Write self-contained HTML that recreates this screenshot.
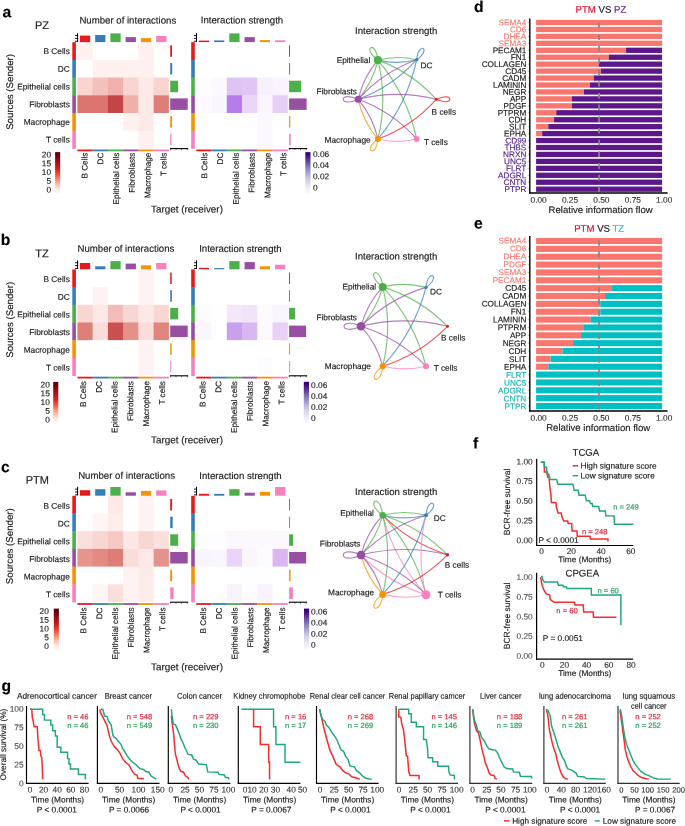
<!DOCTYPE html>
<html lang="en">
<head>
<meta charset="utf-8">
<title>Figure</title>
<style>
html,body{margin:0;padding:0;background:#fff;}
body{width:685px;height:826px;overflow:hidden;}
svg{display:block;}
svg text{font-family:"Liberation Sans",Arial,Helvetica,sans-serif;fill:#1a1a1a;stroke:#1a1a1a;stroke-width:0.15px;stroke-linejoin:round;text-rendering:geometricPrecision;}
.b{font-weight:bold;}
</style>
</head>
<body>
<svg width="685" height="826" viewBox="0 0 685 826">
<rect x="0" y="0" width="685" height="826" fill="#ffffff"/>
<defs>
<linearGradient id="gred" x1="0" y1="1" x2="0" y2="0">
<stop offset="0" stop-color="#fff5f0"/>
<stop offset="0.08" stop-color="#fff1ec"/>
<stop offset="0.25" stop-color="#fcb398"/>
<stop offset="0.45" stop-color="#f4533b"/>
<stop offset="0.6" stop-color="#d21f20"/>
<stop offset="0.78" stop-color="#9c0d14"/>
<stop offset="0.92" stop-color="#67000d"/>
<stop offset="1" stop-color="#5e000c"/>
</linearGradient>
<linearGradient id="gpur" x1="0" y1="1" x2="0" y2="0">
<stop offset="0" stop-color="#fbfafd"/>
<stop offset="0.12" stop-color="#f1eff7"/>
<stop offset="0.35" stop-color="#cfcde5"/>
<stop offset="0.6" stop-color="#8d89c0"/>
<stop offset="0.82" stop-color="#5a3395"/>
<stop offset="0.95" stop-color="#3f007d"/>
<stop offset="1" stop-color="#3a0078"/>
</linearGradient>
</defs>
<g id="panel-a">
<text x="2.6" y="17.2" font-size="15.7" class="b" transform="rotate(0.05 2.6 17.2)" style="fill:#000;stroke:#000">a</text>
<text x="42" y="28.9" font-size="11" text-anchor="middle" transform="rotate(0.05 42 28.9)">PZ</text>
<text x="127.8" y="23.6" font-size="9.65" text-anchor="middle" transform="rotate(0.05 127.8 23.6)">Number of interactions</text>
<text x="242" y="23.4" font-size="9.65" text-anchor="middle" transform="rotate(0.05 242 23.4)">Interaction strength</text>
<text x="69.8" y="54.1" font-size="8.3" text-anchor="end" transform="rotate(0.05 69.8 54.1)">B Cells</text>
<text x="69.8" y="71.8" font-size="8.3" text-anchor="end" transform="rotate(0.05 69.8 71.8)">DC</text>
<text x="69.8" y="89.5" font-size="8.3" text-anchor="end" transform="rotate(0.05 69.8 89.5)">Epithelial cells</text>
<text x="69.8" y="107.2" font-size="8.3" text-anchor="end" transform="rotate(0.05 69.8 107.2)">Fibroblasts</text>
<text x="69.8" y="124.9" font-size="8.3" text-anchor="end" transform="rotate(0.05 69.8 124.9)">Macrophage</text>
<text x="69.8" y="142.6" font-size="8.3" text-anchor="end" transform="rotate(0.05 69.8 142.6)">T cells</text>
<rect x="72.3" y="42.2" width="3.6" height="18" fill="#E41A1C"/>
<rect x="72.3" y="59.9" width="3.6" height="18" fill="#377EB8"/>
<rect x="72.3" y="77.6" width="3.6" height="18" fill="#4DAF4A"/>
<rect x="72.3" y="95.3" width="3.6" height="18" fill="#984EA3"/>
<rect x="72.3" y="113" width="3.6" height="18" fill="#F29403"/>
<rect x="72.3" y="130.7" width="3.6" height="18.1" fill="#F781BF"/>
<rect x="77.4" y="42.2" width="15.75" height="18.2" fill="#fef1f0"/>
<rect x="92.65" y="42.2" width="15.75" height="18.2" fill="#ffffff"/>
<rect x="107.9" y="42.2" width="15.75" height="18.2" fill="#ffffff"/>
<rect x="123.15" y="42.2" width="15.75" height="18.2" fill="#ffffff"/>
<rect x="138.4" y="42.2" width="15.75" height="18.2" fill="#fef1f0"/>
<rect x="153.65" y="42.2" width="15.25" height="18.2" fill="#ffffff"/>
<rect x="77.4" y="59.9" width="15.75" height="18.2" fill="#ffffff"/>
<rect x="92.65" y="59.9" width="15.75" height="18.2" fill="#fef1f0"/>
<rect x="107.9" y="59.9" width="15.75" height="18.2" fill="#fef1f0"/>
<rect x="123.15" y="59.9" width="15.75" height="18.2" fill="#fef1f0"/>
<rect x="138.4" y="59.9" width="15.75" height="18.2" fill="#fef1f0"/>
<rect x="153.65" y="59.9" width="15.25" height="18.2" fill="#ffffff"/>
<rect x="77.4" y="77.6" width="15.75" height="18.2" fill="#f8d3cf"/>
<rect x="92.65" y="77.6" width="15.75" height="18.2" fill="#f4c0bb"/>
<rect x="107.9" y="77.6" width="15.75" height="18.2" fill="#f0b1ac"/>
<rect x="123.15" y="77.6" width="15.75" height="18.2" fill="#f8d3cf"/>
<rect x="138.4" y="77.6" width="15.75" height="18.2" fill="#fde9e7"/>
<rect x="153.65" y="77.6" width="15.25" height="18.2" fill="#f8d3cf"/>
<rect x="77.4" y="95.3" width="15.75" height="18.2" fill="#dc7570"/>
<rect x="92.65" y="95.3" width="15.75" height="18.2" fill="#dc7570"/>
<rect x="107.9" y="95.3" width="15.75" height="18.2" fill="#c44546"/>
<rect x="123.15" y="95.3" width="15.75" height="18.2" fill="#efb0aa"/>
<rect x="138.4" y="95.3" width="15.75" height="18.2" fill="#fde9e7"/>
<rect x="153.65" y="95.3" width="15.25" height="18.2" fill="#de7e78"/>
<rect x="77.4" y="113" width="15.75" height="18.2" fill="#ffffff"/>
<rect x="92.65" y="113" width="15.75" height="18.2" fill="#ffffff"/>
<rect x="107.9" y="113" width="15.75" height="18.2" fill="#ffffff"/>
<rect x="123.15" y="113" width="15.75" height="18.2" fill="#fef1f0"/>
<rect x="138.4" y="113" width="15.75" height="18.2" fill="#fde9e7"/>
<rect x="153.65" y="113" width="15.25" height="18.2" fill="#ffffff"/>
<rect x="77.4" y="130.7" width="15.75" height="17.7" fill="#ffffff"/>
<rect x="92.65" y="130.7" width="15.75" height="17.7" fill="#ffffff"/>
<rect x="107.9" y="130.7" width="15.75" height="17.7" fill="#ffffff"/>
<rect x="123.15" y="130.7" width="15.75" height="17.7" fill="#ffffff"/>
<rect x="138.4" y="130.7" width="15.75" height="17.7" fill="#fef1f0"/>
<rect x="153.65" y="130.7" width="15.25" height="17.7" fill="#ffffff"/>
<rect x="77.4" y="149.5" width="15.3" height="1.8" fill="#E41A1C"/>
<rect x="92.65" y="149.5" width="15.3" height="1.8" fill="#377EB8"/>
<rect x="107.9" y="149.5" width="15.3" height="1.8" fill="#4DAF4A"/>
<rect x="123.15" y="149.5" width="15.3" height="1.8" fill="#984EA3"/>
<rect x="138.4" y="149.5" width="15.3" height="1.8" fill="#F29403"/>
<rect x="153.65" y="149.5" width="15.25" height="1.8" fill="#F781BF"/>
<rect x="79.9" y="35.6" width="10.25" height="6.5" fill="#E41A1C"/>
<rect x="95.15" y="35" width="10.25" height="7.1" fill="#377EB8"/>
<rect x="110.4" y="33.4" width="10.25" height="8.7" fill="#4DAF4A"/>
<rect x="125.65" y="37.1" width="10.25" height="5" fill="#984EA3"/>
<rect x="140.9" y="38.1" width="10.25" height="4" fill="#F29403"/>
<rect x="156.15" y="36" width="10.25" height="6.1" fill="#F781BF"/>
<rect x="170.2" y="45.3" width="1.8" height="11.5" fill="#E41A1C"/>
<rect x="170.2" y="63" width="2" height="11.5" fill="#377EB8"/>
<rect x="170.2" y="80.7" width="7.9" height="11.5" fill="#4DAF4A"/>
<rect x="170.2" y="98.4" width="17.5" height="11.5" fill="#984EA3"/>
<rect x="170.2" y="116.1" width="1.8" height="11.5" fill="#F29403"/>
<rect x="170.2" y="133.8" width="1.2" height="11.5" fill="#F781BF"/>
<line x1="77.6" y1="33.1" x2="77.6" y2="41.7" stroke="#000" stroke-width="1"/>
<line x1="75" y1="41.25" x2="78.1" y2="41.25" stroke="#000" stroke-width="0.9"/>
<line x1="75" y1="38.4" x2="78.1" y2="38.4" stroke="#000" stroke-width="0.9"/>
<line x1="75" y1="35.55" x2="78.1" y2="35.55" stroke="#000" stroke-width="0.9"/>
<line x1="170" y1="148.6" x2="188.2" y2="148.6" stroke="#000" stroke-width="1.1"/>
<line x1="170.4" y1="148.6" x2="170.4" y2="150.1" stroke="#000" stroke-width="0.6"/>
<line x1="176" y1="148.6" x2="176" y2="150.1" stroke="#000" stroke-width="0.6"/>
<line x1="181.6" y1="148.6" x2="181.6" y2="150.1" stroke="#000" stroke-width="0.6"/>
<line x1="187.2" y1="148.6" x2="187.2" y2="150.1" stroke="#000" stroke-width="0.6"/>
<rect x="191.2" y="42.2" width="3.6" height="18" fill="#E41A1C"/>
<rect x="191.2" y="59.9" width="3.6" height="18" fill="#377EB8"/>
<rect x="191.2" y="77.6" width="3.6" height="18" fill="#4DAF4A"/>
<rect x="191.2" y="95.3" width="3.6" height="18" fill="#984EA3"/>
<rect x="191.2" y="113" width="3.6" height="18" fill="#F29403"/>
<rect x="191.2" y="130.7" width="3.6" height="18.1" fill="#F781BF"/>
<rect x="196.3" y="42.2" width="15.75" height="18.2" fill="#ffffff"/>
<rect x="211.55" y="42.2" width="15.75" height="18.2" fill="#ffffff"/>
<rect x="226.8" y="42.2" width="15.75" height="18.2" fill="#ffffff"/>
<rect x="242.05" y="42.2" width="15.75" height="18.2" fill="#ffffff"/>
<rect x="257.3" y="42.2" width="15.75" height="18.2" fill="#ffffff"/>
<rect x="272.55" y="42.2" width="15.25" height="18.2" fill="#ffffff"/>
<rect x="196.3" y="59.9" width="15.75" height="18.2" fill="#ffffff"/>
<rect x="211.55" y="59.9" width="15.75" height="18.2" fill="#ffffff"/>
<rect x="226.8" y="59.9" width="15.75" height="18.2" fill="#fefdff"/>
<rect x="242.05" y="59.9" width="15.75" height="18.2" fill="#fefdff"/>
<rect x="257.3" y="59.9" width="15.75" height="18.2" fill="#ffffff"/>
<rect x="272.55" y="59.9" width="15.25" height="18.2" fill="#ffffff"/>
<rect x="196.3" y="77.6" width="15.75" height="18.2" fill="#fdfcfe"/>
<rect x="211.55" y="77.6" width="15.75" height="18.2" fill="#fbf8fe"/>
<rect x="226.8" y="77.6" width="15.75" height="18.2" fill="#dfc3f5"/>
<rect x="242.05" y="77.6" width="15.75" height="18.2" fill="#e0c5f5"/>
<rect x="257.3" y="77.6" width="15.75" height="18.2" fill="#f7f0fd"/>
<rect x="272.55" y="77.6" width="15.25" height="18.2" fill="#f9f4fd"/>
<rect x="196.3" y="95.3" width="15.75" height="18.2" fill="#fdfbff"/>
<rect x="211.55" y="95.3" width="15.75" height="18.2" fill="#faf6fe"/>
<rect x="226.8" y="95.3" width="15.75" height="18.2" fill="#b57de9"/>
<rect x="242.05" y="95.3" width="15.75" height="18.2" fill="#ead6f8"/>
<rect x="257.3" y="95.3" width="15.75" height="18.2" fill="#faf5fe"/>
<rect x="272.55" y="95.3" width="15.25" height="18.2" fill="#e6cff7"/>
<rect x="196.3" y="113" width="15.75" height="18.2" fill="#ffffff"/>
<rect x="211.55" y="113" width="15.75" height="18.2" fill="#ffffff"/>
<rect x="226.8" y="113" width="15.75" height="18.2" fill="#ffffff"/>
<rect x="242.05" y="113" width="15.75" height="18.2" fill="#fefdff"/>
<rect x="257.3" y="113" width="15.75" height="18.2" fill="#fcf9fe"/>
<rect x="272.55" y="113" width="15.25" height="18.2" fill="#ffffff"/>
<rect x="196.3" y="130.7" width="15.75" height="17.7" fill="#ffffff"/>
<rect x="211.55" y="130.7" width="15.75" height="17.7" fill="#ffffff"/>
<rect x="226.8" y="130.7" width="15.75" height="17.7" fill="#ffffff"/>
<rect x="242.05" y="130.7" width="15.75" height="17.7" fill="#ffffff"/>
<rect x="257.3" y="130.7" width="15.75" height="17.7" fill="#fcf8fe"/>
<rect x="272.55" y="130.7" width="15.25" height="17.7" fill="#ffffff"/>
<rect x="196.3" y="149.5" width="15.3" height="1.8" fill="#E41A1C"/>
<rect x="211.55" y="149.5" width="15.3" height="1.8" fill="#377EB8"/>
<rect x="226.8" y="149.5" width="15.3" height="1.8" fill="#4DAF4A"/>
<rect x="242.05" y="149.5" width="15.3" height="1.8" fill="#984EA3"/>
<rect x="257.3" y="149.5" width="15.3" height="1.8" fill="#F29403"/>
<rect x="272.55" y="149.5" width="15.25" height="1.8" fill="#F781BF"/>
<rect x="198.8" y="40.6" width="10.25" height="1.5" fill="#E41A1C"/>
<rect x="214.05" y="40.4" width="10.25" height="1.7" fill="#377EB8"/>
<rect x="229.3" y="33.4" width="10.25" height="8.7" fill="#4DAF4A"/>
<rect x="244.55" y="37.1" width="10.25" height="5" fill="#984EA3"/>
<rect x="259.8" y="40.1" width="10.25" height="2" fill="#F29403"/>
<rect x="275.05" y="40.3" width="10.25" height="1.8" fill="#F781BF"/>
<rect x="289.1" y="45.3" width="0.9" height="11.5" fill="#E41A1C"/>
<rect x="289.1" y="63" width="1" height="11.5" fill="#377EB8"/>
<rect x="289.1" y="80.7" width="12.1" height="11.5" fill="#4DAF4A"/>
<rect x="289.1" y="98.4" width="17.5" height="11.5" fill="#984EA3"/>
<rect x="289.1" y="116.1" width="1.2" height="11.5" fill="#F29403"/>
<rect x="289.1" y="133.8" width="1.6" height="11.5" fill="#F781BF"/>
<line x1="196.5" y1="33.1" x2="196.5" y2="41.7" stroke="#000" stroke-width="1"/>
<line x1="193.9" y1="41.25" x2="197" y2="41.25" stroke="#000" stroke-width="0.9"/>
<line x1="193.9" y1="38.4" x2="197" y2="38.4" stroke="#000" stroke-width="0.9"/>
<line x1="193.9" y1="35.55" x2="197" y2="35.55" stroke="#000" stroke-width="0.9"/>
<line x1="288.9" y1="148.6" x2="307.1" y2="148.6" stroke="#000" stroke-width="1.1"/>
<line x1="289.3" y1="148.6" x2="289.3" y2="150.1" stroke="#000" stroke-width="0.6"/>
<line x1="294.9" y1="148.6" x2="294.9" y2="150.1" stroke="#000" stroke-width="0.6"/>
<line x1="300.5" y1="148.6" x2="300.5" y2="150.1" stroke="#000" stroke-width="0.6"/>
<line x1="306.1" y1="148.6" x2="306.1" y2="150.1" stroke="#000" stroke-width="0.6"/>
<text x="187" y="212.6" font-size="9.9" text-anchor="middle" transform="rotate(0.05 187 212.6)">Target (receiver)</text>
<rect x="55.1" y="152.1" width="5.1" height="41.2" fill="url(#gred)"/>
<text x="51.1" y="157.6" font-size="8.3" text-anchor="end" transform="rotate(0.05 51.1 157.6)">20</text>
<text x="51.1" y="166.35" font-size="8.3" text-anchor="end" transform="rotate(0.05 51.1 166.35)">15</text>
<text x="51.1" y="175.1" font-size="8.3" text-anchor="end" transform="rotate(0.05 51.1 175.1)">10</text>
<text x="51.1" y="183.85" font-size="8.3" text-anchor="end" transform="rotate(0.05 51.1 183.85)">5</text>
<text x="51.1" y="192.6" font-size="8.3" text-anchor="end" transform="rotate(0.05 51.1 192.6)">0</text>
<rect x="305.3" y="152.1" width="5.2" height="41.6" fill="url(#gpur)"/>
<text x="313" y="156.9" font-size="8.3" transform="rotate(0.05 313 156.9)">0.06</text>
<text x="313" y="168.1" font-size="8.3" transform="rotate(0.05 313 168.1)">0.04</text>
<text x="313" y="179.3" font-size="8.3" transform="rotate(0.05 313 179.3)">0.02</text>
<text x="313" y="190.5" font-size="8.3" transform="rotate(0.05 313 190.5)">0</text>
<path d="M377.9 60.1Q397.25 55.05 416.7 59.7" fill="none" stroke="#4DAF4A" stroke-width="1.15" stroke-opacity="0.72"/>
<path d="M416.7 59.7Q397.35 64.75 377.9 60.1" fill="none" stroke="#377EB8" stroke-width="1.15" stroke-opacity="0.72"/>
<path d="M377.9 60.1Q412 72.4 436.3 99.3" fill="none" stroke="#4DAF4A" stroke-width="1.15" stroke-opacity="0.72"/>
<path d="M377.9 60.1Q407.16 94.7 416.7 139" fill="none" stroke="#4DAF4A" stroke-width="1.15" stroke-opacity="0.72"/>
<path d="M377.9 60.1Q387.76 99.55 377.9 139" fill="none" stroke="#4DAF4A" stroke-width="1.15" stroke-opacity="0.72"/>
<path d="M377.9 60.1Q372.95 82.16 358.2 99.3" fill="none" stroke="#4DAF4A" stroke-width="1.15" stroke-opacity="0.72"/>
<path d="M358.2 99.3Q363.15 77.24 377.9 60.1" fill="none" stroke="#984EA3" stroke-width="1.15" stroke-opacity="0.72"/>
<path d="M358.2 99.3Q382.5 72.19 416.7 59.7" fill="none" stroke="#984EA3" stroke-width="1.15" stroke-opacity="0.72"/>
<path d="M358.2 99.3Q397.25 89.54 436.3 99.3" fill="none" stroke="#984EA3" stroke-width="1.15" stroke-opacity="0.72"/>
<path d="M358.2 99.3Q392.41 111.84 416.7 139" fill="none" stroke="#984EA3" stroke-width="1.15" stroke-opacity="0.72"/>
<path d="M358.2 99.3Q373.01 116.69 377.9 139" fill="none" stroke="#984EA3" stroke-width="1.15" stroke-opacity="0.72"/>
<path d="M416.7 59.7Q392.4 86.81 358.2 99.3" fill="none" stroke="#377EB8" stroke-width="1.15" stroke-opacity="0.72"/>
<path d="M416.7 59.7Q407.21 104.2 377.9 139" fill="none" stroke="#377EB8" stroke-width="1.15" stroke-opacity="0.72"/>
<path d="M436.3 99.3Q412.06 126.45 377.9 139" fill="none" stroke="#E41A1C" stroke-width="1.15" stroke-opacity="0.72"/>
<path d="M377.9 139Q363.09 121.61 358.2 99.3" fill="none" stroke="#F29403" stroke-width="1.15" stroke-opacity="0.72"/>
<path d="M416.7 139Q397.3 143.85 377.9 139" fill="none" stroke="#F781BF" stroke-width="1.15" stroke-opacity="0.72"/>
<path d="M377.9 60.1C376.07 39.18 360.7 48.05 377.9 60.1" fill="none" stroke="#4DAF4A" stroke-width="1.15" stroke-opacity="0.72"/>
<path d="M416.7 59.7C432.26 48.8 418.36 40.77 416.7 59.7" fill="none" stroke="#377EB8" stroke-width="1.15" stroke-opacity="0.72"/>
<path d="M436.3 99.3C454.43 107.75 454.43 90.85 436.3 99.3" fill="none" stroke="#E41A1C" stroke-width="1.15" stroke-opacity="0.72"/>
<path d="M358.2 99.3C338.26 90 338.26 108.6 358.2 99.3" fill="none" stroke="#984EA3" stroke-width="1.15" stroke-opacity="0.72"/>
<path d="M377.9 139C361.76 150.3 376.18 158.63 377.9 139" fill="none" stroke="#F29403" stroke-width="1.15" stroke-opacity="0.72"/>
<circle cx="436.3" cy="99.3" r="1.5" fill="#E41A1C"/>
<circle cx="416.7" cy="59.7" r="1.7" fill="#377EB8"/>
<circle cx="377.9" cy="60.1" r="4.1" fill="#4DAF4A"/>
<circle cx="358.2" cy="99.3" r="3.5" fill="#984EA3"/>
<circle cx="377.9" cy="139" r="3" fill="#F29403"/>
<circle cx="416.7" cy="139" r="3" fill="#F781BF"/>
<text x="370.3" y="63.1" font-size="8.3" text-anchor="end" transform="rotate(0.05 370.3 63.1)">Epithelial</text>
<text x="420.4" y="68.2" font-size="8.3" transform="rotate(0.05 420.4 68.2)">DC</text>
<text x="357" y="94.2" font-size="8.3" text-anchor="end" transform="rotate(0.05 357 94.2)">Fibroblasts</text>
<text x="431.6" y="114.8" font-size="8.3" transform="rotate(0.05 431.6 114.8)">B cells</text>
<text x="424" y="144.9" font-size="8.3" transform="rotate(0.05 424 144.9)">T cells</text>
<text x="370.7" y="142.8" font-size="8.3" text-anchor="end" transform="rotate(0.05 370.7 142.8)">Macrophage</text>
<text x="396.2" y="34.1" font-size="9.65" text-anchor="middle" transform="rotate(0.05 396.2 34.1)">Interaction strength</text>
</g>
<g id="panel-b">
<text x="0.85" y="245.1" font-size="15.7" class="b" transform="rotate(0.05 0.85 245.1)" style="fill:#000;stroke:#000">b</text>
<text x="42" y="257.2" font-size="11" text-anchor="middle" transform="rotate(0.05 42 257.2)">TZ</text>
<text x="125.9" y="251.8" font-size="9.65" text-anchor="middle" transform="rotate(0.05 125.9 251.8)">Number of interactions</text>
<text x="240.35" y="251.9" font-size="9.65" text-anchor="middle" transform="rotate(0.05 240.35 251.9)">Interaction strength</text>
<text x="69.8" y="282" font-size="8.3" text-anchor="end" transform="rotate(0.05 69.8 282)">B Cells</text>
<text x="69.8" y="299.7" font-size="8.3" text-anchor="end" transform="rotate(0.05 69.8 299.7)">DC</text>
<text x="69.8" y="317.4" font-size="8.3" text-anchor="end" transform="rotate(0.05 69.8 317.4)">Epithelial cells</text>
<text x="69.8" y="335.1" font-size="8.3" text-anchor="end" transform="rotate(0.05 69.8 335.1)">Fibroblasts</text>
<text x="69.8" y="352.8" font-size="8.3" text-anchor="end" transform="rotate(0.05 69.8 352.8)">Macrophage</text>
<text x="69.8" y="370.5" font-size="8.3" text-anchor="end" transform="rotate(0.05 69.8 370.5)">T cells</text>
<rect x="72.3" y="269.4" width="3.6" height="18" fill="#E41A1C"/>
<rect x="72.3" y="287.1" width="3.6" height="18" fill="#377EB8"/>
<rect x="72.3" y="304.8" width="3.6" height="18" fill="#4DAF4A"/>
<rect x="72.3" y="322.5" width="3.6" height="18" fill="#984EA3"/>
<rect x="72.3" y="340.2" width="3.6" height="18" fill="#F29403"/>
<rect x="72.3" y="357.9" width="3.6" height="18.1" fill="#F781BF"/>
<rect x="77.4" y="269.4" width="15.75" height="18.2" fill="#ffffff"/>
<rect x="92.65" y="269.4" width="15.75" height="18.2" fill="#ffffff"/>
<rect x="107.9" y="269.4" width="15.75" height="18.2" fill="#ffffff"/>
<rect x="123.15" y="269.4" width="15.75" height="18.2" fill="#ffffff"/>
<rect x="138.4" y="269.4" width="15.75" height="18.2" fill="#fef3f2"/>
<rect x="153.65" y="269.4" width="15.25" height="18.2" fill="#ffffff"/>
<rect x="77.4" y="287.1" width="15.75" height="18.2" fill="#ffffff"/>
<rect x="92.65" y="287.1" width="15.75" height="18.2" fill="#fef3f2"/>
<rect x="107.9" y="287.1" width="15.75" height="18.2" fill="#ffffff"/>
<rect x="123.15" y="287.1" width="15.75" height="18.2" fill="#ffffff"/>
<rect x="138.4" y="287.1" width="15.75" height="18.2" fill="#fef3f2"/>
<rect x="153.65" y="287.1" width="15.25" height="18.2" fill="#ffffff"/>
<rect x="77.4" y="304.8" width="15.75" height="18.2" fill="#f8d6d2"/>
<rect x="92.65" y="304.8" width="15.75" height="18.2" fill="#fce8e6"/>
<rect x="107.9" y="304.8" width="15.75" height="18.2" fill="#f3bcb8"/>
<rect x="123.15" y="304.8" width="15.75" height="18.2" fill="#f8d6d2"/>
<rect x="138.4" y="304.8" width="15.75" height="18.2" fill="#fce8e6"/>
<rect x="153.65" y="304.8" width="15.25" height="18.2" fill="#f8d6d2"/>
<rect x="77.4" y="322.5" width="15.75" height="18.2" fill="#de7f78"/>
<rect x="92.65" y="322.5" width="15.75" height="18.2" fill="#fbdedb"/>
<rect x="107.9" y="322.5" width="15.75" height="18.2" fill="#c9504f"/>
<rect x="123.15" y="322.5" width="15.75" height="18.2" fill="#e59089"/>
<rect x="138.4" y="322.5" width="15.75" height="18.2" fill="#fbdedb"/>
<rect x="153.65" y="322.5" width="15.25" height="18.2" fill="#e0847d"/>
<rect x="77.4" y="340.2" width="15.75" height="18.2" fill="#ffffff"/>
<rect x="92.65" y="340.2" width="15.75" height="18.2" fill="#ffffff"/>
<rect x="107.9" y="340.2" width="15.75" height="18.2" fill="#ffffff"/>
<rect x="123.15" y="340.2" width="15.75" height="18.2" fill="#ffffff"/>
<rect x="138.4" y="340.2" width="15.75" height="18.2" fill="#fef3f2"/>
<rect x="153.65" y="340.2" width="15.25" height="18.2" fill="#ffffff"/>
<rect x="77.4" y="357.9" width="15.75" height="17.7" fill="#ffffff"/>
<rect x="92.65" y="357.9" width="15.75" height="17.7" fill="#ffffff"/>
<rect x="107.9" y="357.9" width="15.75" height="17.7" fill="#ffffff"/>
<rect x="123.15" y="357.9" width="15.75" height="17.7" fill="#ffffff"/>
<rect x="138.4" y="357.9" width="15.75" height="17.7" fill="#fef3f2"/>
<rect x="153.65" y="357.9" width="15.25" height="17.7" fill="#ffffff"/>
<rect x="77.4" y="376.7" width="15.3" height="1.8" fill="#E41A1C"/>
<rect x="92.65" y="376.7" width="15.3" height="1.8" fill="#377EB8"/>
<rect x="107.9" y="376.7" width="15.3" height="1.8" fill="#4DAF4A"/>
<rect x="123.15" y="376.7" width="15.3" height="1.8" fill="#984EA3"/>
<rect x="138.4" y="376.7" width="15.3" height="1.8" fill="#F29403"/>
<rect x="153.65" y="376.7" width="15.25" height="1.8" fill="#F781BF"/>
<rect x="79.9" y="263" width="10.25" height="6.3" fill="#E41A1C"/>
<rect x="95.15" y="266.3" width="10.25" height="3" fill="#377EB8"/>
<rect x="110.4" y="261.1" width="10.25" height="8.2" fill="#4DAF4A"/>
<rect x="125.65" y="263.6" width="10.25" height="5.7" fill="#984EA3"/>
<rect x="140.9" y="265.3" width="10.25" height="4" fill="#F29403"/>
<rect x="156.15" y="263" width="10.25" height="6.3" fill="#F781BF"/>
<rect x="170.2" y="272.5" width="1.5" height="11.5" fill="#E41A1C"/>
<rect x="170.2" y="290.2" width="1.7" height="11.5" fill="#377EB8"/>
<rect x="170.2" y="307.9" width="8" height="11.5" fill="#4DAF4A"/>
<rect x="170.2" y="325.6" width="17.5" height="11.5" fill="#984EA3"/>
<rect x="170.2" y="343.3" width="1.5" height="11.5" fill="#F29403"/>
<rect x="170.2" y="361" width="1" height="11.5" fill="#F781BF"/>
<line x1="77.6" y1="260.3" x2="77.6" y2="268.9" stroke="#000" stroke-width="1"/>
<line x1="75" y1="268.45" x2="78.1" y2="268.45" stroke="#000" stroke-width="0.9"/>
<line x1="75" y1="265.6" x2="78.1" y2="265.6" stroke="#000" stroke-width="0.9"/>
<line x1="75" y1="262.75" x2="78.1" y2="262.75" stroke="#000" stroke-width="0.9"/>
<line x1="170" y1="375.8" x2="188.2" y2="375.8" stroke="#000" stroke-width="1.1"/>
<line x1="170.4" y1="375.8" x2="170.4" y2="377.3" stroke="#000" stroke-width="0.6"/>
<line x1="176" y1="375.8" x2="176" y2="377.3" stroke="#000" stroke-width="0.6"/>
<line x1="181.6" y1="375.8" x2="181.6" y2="377.3" stroke="#000" stroke-width="0.6"/>
<line x1="187.2" y1="375.8" x2="187.2" y2="377.3" stroke="#000" stroke-width="0.6"/>
<rect x="191.2" y="269.4" width="3.6" height="18" fill="#E41A1C"/>
<rect x="191.2" y="287.1" width="3.6" height="18" fill="#377EB8"/>
<rect x="191.2" y="304.8" width="3.6" height="18" fill="#4DAF4A"/>
<rect x="191.2" y="322.5" width="3.6" height="18" fill="#984EA3"/>
<rect x="191.2" y="340.2" width="3.6" height="18" fill="#F29403"/>
<rect x="191.2" y="357.9" width="3.6" height="18.1" fill="#F781BF"/>
<rect x="196.3" y="269.4" width="15.75" height="18.2" fill="#ffffff"/>
<rect x="211.55" y="269.4" width="15.75" height="18.2" fill="#ffffff"/>
<rect x="226.8" y="269.4" width="15.75" height="18.2" fill="#ffffff"/>
<rect x="242.05" y="269.4" width="15.75" height="18.2" fill="#ffffff"/>
<rect x="257.3" y="269.4" width="15.75" height="18.2" fill="#ffffff"/>
<rect x="272.55" y="269.4" width="15.25" height="18.2" fill="#ffffff"/>
<rect x="196.3" y="287.1" width="15.75" height="18.2" fill="#ffffff"/>
<rect x="211.55" y="287.1" width="15.75" height="18.2" fill="#ffffff"/>
<rect x="226.8" y="287.1" width="15.75" height="18.2" fill="#ffffff"/>
<rect x="242.05" y="287.1" width="15.75" height="18.2" fill="#ffffff"/>
<rect x="257.3" y="287.1" width="15.75" height="18.2" fill="#ffffff"/>
<rect x="272.55" y="287.1" width="15.25" height="18.2" fill="#ffffff"/>
<rect x="196.3" y="304.8" width="15.75" height="18.2" fill="#fdfbfe"/>
<rect x="211.55" y="304.8" width="15.75" height="18.2" fill="#fefeff"/>
<rect x="226.8" y="304.8" width="15.75" height="18.2" fill="#f3e8fa"/>
<rect x="242.05" y="304.8" width="15.75" height="18.2" fill="#f1e4f9"/>
<rect x="257.3" y="304.8" width="15.75" height="18.2" fill="#fdfbfe"/>
<rect x="272.55" y="304.8" width="15.25" height="18.2" fill="#fbf6fd"/>
<rect x="196.3" y="322.5" width="15.75" height="18.2" fill="#f9f6fe"/>
<rect x="211.55" y="322.5" width="15.75" height="18.2" fill="#ffffff"/>
<rect x="226.8" y="322.5" width="15.75" height="18.2" fill="#c9a0ee"/>
<rect x="242.05" y="322.5" width="15.75" height="18.2" fill="#d9b8f2"/>
<rect x="257.3" y="322.5" width="15.75" height="18.2" fill="#fdfafe"/>
<rect x="272.55" y="322.5" width="15.25" height="18.2" fill="#e8d0f7"/>
<rect x="196.3" y="340.2" width="15.75" height="18.2" fill="#ffffff"/>
<rect x="211.55" y="340.2" width="15.75" height="18.2" fill="#ffffff"/>
<rect x="226.8" y="340.2" width="15.75" height="18.2" fill="#ffffff"/>
<rect x="242.05" y="340.2" width="15.75" height="18.2" fill="#ffffff"/>
<rect x="257.3" y="340.2" width="15.75" height="18.2" fill="#fefdff"/>
<rect x="272.55" y="340.2" width="15.25" height="18.2" fill="#ffffff"/>
<rect x="196.3" y="357.9" width="15.75" height="17.7" fill="#ffffff"/>
<rect x="211.55" y="357.9" width="15.75" height="17.7" fill="#ffffff"/>
<rect x="226.8" y="357.9" width="15.75" height="17.7" fill="#ffffff"/>
<rect x="242.05" y="357.9" width="15.75" height="17.7" fill="#ffffff"/>
<rect x="257.3" y="357.9" width="15.75" height="17.7" fill="#fdfbfe"/>
<rect x="272.55" y="357.9" width="15.25" height="17.7" fill="#ffffff"/>
<rect x="196.3" y="376.7" width="15.3" height="1.8" fill="#E41A1C"/>
<rect x="211.55" y="376.7" width="15.3" height="1.8" fill="#377EB8"/>
<rect x="226.8" y="376.7" width="15.3" height="1.8" fill="#4DAF4A"/>
<rect x="242.05" y="376.7" width="15.3" height="1.8" fill="#984EA3"/>
<rect x="257.3" y="376.7" width="15.3" height="1.8" fill="#F29403"/>
<rect x="272.55" y="376.7" width="15.25" height="1.8" fill="#F781BF"/>
<rect x="198.8" y="267.8" width="10.25" height="1.5" fill="#E41A1C"/>
<rect x="214.05" y="268.1" width="10.25" height="1.2" fill="#377EB8"/>
<rect x="229.3" y="261.1" width="10.25" height="8.2" fill="#4DAF4A"/>
<rect x="244.55" y="262.1" width="10.25" height="7.2" fill="#984EA3"/>
<rect x="259.8" y="266.3" width="10.25" height="3" fill="#F29403"/>
<rect x="275.05" y="264.7" width="10.25" height="4.6" fill="#F781BF"/>
<rect x="289.1" y="272.5" width="0.9" height="11.5" fill="#E41A1C"/>
<rect x="289.1" y="290.2" width="0.9" height="11.5" fill="#377EB8"/>
<rect x="289.1" y="307.9" width="6" height="11.5" fill="#4DAF4A"/>
<rect x="289.1" y="325.6" width="17" height="11.5" fill="#984EA3"/>
<rect x="289.1" y="343.3" width="1" height="11.5" fill="#F29403"/>
<rect x="289.1" y="361" width="1" height="11.5" fill="#F781BF"/>
<line x1="196.5" y1="260.3" x2="196.5" y2="268.9" stroke="#000" stroke-width="1"/>
<line x1="193.9" y1="268.45" x2="197" y2="268.45" stroke="#000" stroke-width="0.9"/>
<line x1="193.9" y1="265.6" x2="197" y2="265.6" stroke="#000" stroke-width="0.9"/>
<line x1="193.9" y1="262.75" x2="197" y2="262.75" stroke="#000" stroke-width="0.9"/>
<line x1="288.9" y1="375.8" x2="307.1" y2="375.8" stroke="#000" stroke-width="1.1"/>
<line x1="289.3" y1="375.8" x2="289.3" y2="377.3" stroke="#000" stroke-width="0.6"/>
<line x1="294.9" y1="375.8" x2="294.9" y2="377.3" stroke="#000" stroke-width="0.6"/>
<line x1="300.5" y1="375.8" x2="300.5" y2="377.3" stroke="#000" stroke-width="0.6"/>
<line x1="306.1" y1="375.8" x2="306.1" y2="377.3" stroke="#000" stroke-width="0.6"/>
<text x="187" y="443.2" font-size="9.9" text-anchor="middle" transform="rotate(0.05 187 443.2)">Target (receiver)</text>
<rect x="53.2" y="381.9" width="5.1" height="41.2" fill="url(#gred)"/>
<text x="49.8" y="387.4" font-size="8.3" text-anchor="end" transform="rotate(0.05 49.8 387.4)">20</text>
<text x="49.8" y="396.15" font-size="8.3" text-anchor="end" transform="rotate(0.05 49.8 396.15)">15</text>
<text x="49.8" y="404.9" font-size="8.3" text-anchor="end" transform="rotate(0.05 49.8 404.9)">10</text>
<text x="49.8" y="413.65" font-size="8.3" text-anchor="end" transform="rotate(0.05 49.8 413.65)">5</text>
<text x="49.8" y="422.4" font-size="8.3" text-anchor="end" transform="rotate(0.05 49.8 422.4)">0</text>
<rect x="303.8" y="381.8" width="5.2" height="41.6" fill="url(#gpur)"/>
<text x="311.1" y="387.9" font-size="8.3" transform="rotate(0.05 311.1 387.9)">0.06</text>
<text x="311.1" y="398.95" font-size="8.3" transform="rotate(0.05 311.1 398.95)">0.04</text>
<text x="311.1" y="410" font-size="8.3" transform="rotate(0.05 311.1 410)">0.02</text>
<text x="311.1" y="421.05" font-size="8.3" transform="rotate(0.05 311.1 421.05)">0</text>
<path d="M382.7 286.9Q404.41 281.74 426 287.4" fill="none" stroke="#4DAF4A" stroke-width="1.15" stroke-opacity="0.72"/>
<path d="M382.7 286.9Q420.03 298.5 447.5 326.3" fill="none" stroke="#4DAF4A" stroke-width="1.15" stroke-opacity="0.72"/>
<path d="M382.7 286.9Q414.26 321.14 426 366.2" fill="none" stroke="#4DAF4A" stroke-width="1.15" stroke-opacity="0.72"/>
<path d="M382.7 286.9Q392.61 326.55 382.7 366.2" fill="none" stroke="#4DAF4A" stroke-width="1.15" stroke-opacity="0.72"/>
<path d="M382.7 286.9Q376.78 309.31 361 326.3" fill="none" stroke="#4DAF4A" stroke-width="1.15" stroke-opacity="0.72"/>
<path d="M361 326.3Q366.93 303.89 382.7 286.9" fill="none" stroke="#984EA3" stroke-width="1.15" stroke-opacity="0.72"/>
<path d="M361 326.3Q388.64 298.73 426 287.4" fill="none" stroke="#984EA3" stroke-width="1.15" stroke-opacity="0.72"/>
<path d="M361 326.3Q404.25 315.49 447.5 326.3" fill="none" stroke="#984EA3" stroke-width="1.15" stroke-opacity="0.72"/>
<path d="M361 326.3Q398.49 338.12 426 366.2" fill="none" stroke="#984EA3" stroke-width="1.15" stroke-opacity="0.72"/>
<path d="M361 326.3Q376.84 343.54 382.7 366.2" fill="none" stroke="#984EA3" stroke-width="1.15" stroke-opacity="0.72"/>
<path d="M426 287.4Q414.2 332.21 382.7 366.2" fill="none" stroke="#377EB8" stroke-width="1.15" stroke-opacity="0.72"/>
<path d="M447.5 326.3Q420.09 354.35 382.7 366.2" fill="none" stroke="#E41A1C" stroke-width="1.15" stroke-opacity="0.72"/>
<path d="M426 366.2Q404.35 371.61 382.7 366.2" fill="none" stroke="#F781BF" stroke-width="1.15" stroke-opacity="0.72"/>
<path d="M382.7 286.9C380.63 263.29 363.29 273.31 382.7 286.9" fill="none" stroke="#4DAF4A" stroke-width="1.15" stroke-opacity="0.72"/>
<path d="M426 287.4C442.14 276.1 427.72 267.77 426 287.4" fill="none" stroke="#377EB8" stroke-width="1.15" stroke-opacity="0.72"/>
<path d="M361 326.3C338.34 315.73 338.34 336.87 361 326.3" fill="none" stroke="#984EA3" stroke-width="1.15" stroke-opacity="0.72"/>
<path d="M382.7 366.2C364.68 378.82 380.78 388.12 382.7 366.2" fill="none" stroke="#F29403" stroke-width="1.15" stroke-opacity="0.72"/>
<circle cx="447.5" cy="326.3" r="1.5" fill="#E41A1C"/>
<circle cx="426" cy="287.4" r="1.7" fill="#377EB8"/>
<circle cx="382.7" cy="286.9" r="4" fill="#4DAF4A"/>
<circle cx="361" cy="326.3" r="4.3" fill="#984EA3"/>
<circle cx="382.7" cy="366.2" r="3" fill="#F29403"/>
<circle cx="426" cy="366.2" r="3" fill="#F781BF"/>
<text x="376.1" y="289.5" font-size="8.3" text-anchor="end" transform="rotate(0.05 376.1 289.5)">Epithelial</text>
<text x="430" y="294.6" font-size="8.3" transform="rotate(0.05 430 294.6)">DC</text>
<text x="357" y="320.2" font-size="8.3" text-anchor="end" transform="rotate(0.05 357 320.2)">Fibroblasts</text>
<text x="441" y="340.6" font-size="8.3" transform="rotate(0.05 441 340.6)">B cells</text>
<text x="433.7" y="370.8" font-size="8.3" transform="rotate(0.05 433.7 370.8)">T cells</text>
<text x="370.9" y="369" font-size="8.3" text-anchor="end" transform="rotate(0.05 370.9 369)">Macrophage</text>
<text x="396.2" y="259.6" font-size="9.65" text-anchor="middle" transform="rotate(0.05 396.2 259.6)">Interaction strength</text>
</g>
<g id="panel-c">
<text x="0.9" y="472.3" font-size="15.7" class="b" transform="rotate(0.05 0.9 472.3)" style="fill:#000;stroke:#000">c</text>
<text x="37.4" y="483.7" font-size="11" text-anchor="middle" transform="rotate(0.05 37.4 483.7)">PTM</text>
<text x="126.6" y="478.7" font-size="9.65" text-anchor="middle" transform="rotate(0.05 126.6 478.7)">Number of interactions</text>
<text x="240.5" y="479" font-size="9.65" text-anchor="middle" transform="rotate(0.05 240.5 479)">Interaction strength</text>
<text x="69.8" y="508.8" font-size="8.3" text-anchor="end" transform="rotate(0.05 69.8 508.8)">B Cells</text>
<text x="69.8" y="526.5" font-size="8.3" text-anchor="end" transform="rotate(0.05 69.8 526.5)">DC</text>
<text x="69.8" y="544.2" font-size="8.3" text-anchor="end" transform="rotate(0.05 69.8 544.2)">Epithelial cells</text>
<text x="69.8" y="561.9" font-size="8.3" text-anchor="end" transform="rotate(0.05 69.8 561.9)">Fibroblasts</text>
<text x="69.8" y="579.6" font-size="8.3" text-anchor="end" transform="rotate(0.05 69.8 579.6)">Macrophage</text>
<text x="69.8" y="597.3" font-size="8.3" text-anchor="end" transform="rotate(0.05 69.8 597.3)">T cells</text>
<rect x="72.3" y="495.8" width="3.6" height="18" fill="#E41A1C"/>
<rect x="72.3" y="513.5" width="3.6" height="18" fill="#377EB8"/>
<rect x="72.3" y="531.2" width="3.6" height="18" fill="#4DAF4A"/>
<rect x="72.3" y="548.9" width="3.6" height="18" fill="#984EA3"/>
<rect x="72.3" y="566.6" width="3.6" height="18" fill="#F29403"/>
<rect x="72.3" y="584.3" width="3.6" height="18.1" fill="#F781BF"/>
<rect x="77.4" y="495.8" width="15.75" height="18.2" fill="#ffffff"/>
<rect x="92.65" y="495.8" width="15.75" height="18.2" fill="#ffffff"/>
<rect x="107.9" y="495.8" width="15.75" height="18.2" fill="#fdeae8"/>
<rect x="123.15" y="495.8" width="15.75" height="18.2" fill="#ffffff"/>
<rect x="138.4" y="495.8" width="15.75" height="18.2" fill="#fef3f2"/>
<rect x="153.65" y="495.8" width="15.25" height="18.2" fill="#ffffff"/>
<rect x="77.4" y="513.5" width="15.75" height="18.2" fill="#ffffff"/>
<rect x="92.65" y="513.5" width="15.75" height="18.2" fill="#fef5f4"/>
<rect x="107.9" y="513.5" width="15.75" height="18.2" fill="#fdeeec"/>
<rect x="123.15" y="513.5" width="15.75" height="18.2" fill="#ffffff"/>
<rect x="138.4" y="513.5" width="15.75" height="18.2" fill="#fef3f2"/>
<rect x="153.65" y="513.5" width="15.25" height="18.2" fill="#ffffff"/>
<rect x="77.4" y="531.2" width="15.75" height="18.2" fill="#fadfdc"/>
<rect x="92.65" y="531.2" width="15.75" height="18.2" fill="#f8d6d2"/>
<rect x="107.9" y="531.2" width="15.75" height="18.2" fill="#f6c9c5"/>
<rect x="123.15" y="531.2" width="15.75" height="18.2" fill="#fce8e6"/>
<rect x="138.4" y="531.2" width="15.75" height="18.2" fill="#f8d6d2"/>
<rect x="153.65" y="531.2" width="15.25" height="18.2" fill="#fadfdc"/>
<rect x="77.4" y="548.9" width="15.75" height="18.2" fill="#e6948d"/>
<rect x="92.65" y="548.9" width="15.75" height="18.2" fill="#e38a83"/>
<rect x="107.9" y="548.9" width="15.75" height="18.2" fill="#de7c76"/>
<rect x="123.15" y="548.9" width="15.75" height="18.2" fill="#fadcd9"/>
<rect x="138.4" y="548.9" width="15.75" height="18.2" fill="#fdeae8"/>
<rect x="153.65" y="548.9" width="15.25" height="18.2" fill="#e4928b"/>
<rect x="77.4" y="566.6" width="15.75" height="18.2" fill="#ffffff"/>
<rect x="92.65" y="566.6" width="15.75" height="18.2" fill="#ffffff"/>
<rect x="107.9" y="566.6" width="15.75" height="18.2" fill="#ffffff"/>
<rect x="123.15" y="566.6" width="15.75" height="18.2" fill="#fef3f2"/>
<rect x="138.4" y="566.6" width="15.75" height="18.2" fill="#fdebe9"/>
<rect x="153.65" y="566.6" width="15.25" height="18.2" fill="#ffffff"/>
<rect x="77.4" y="584.3" width="15.75" height="17.7" fill="#ffffff"/>
<rect x="92.65" y="584.3" width="15.75" height="17.7" fill="#fef5f4"/>
<rect x="107.9" y="584.3" width="15.75" height="17.7" fill="#fbdfdc"/>
<rect x="123.15" y="584.3" width="15.75" height="17.7" fill="#fef3f2"/>
<rect x="138.4" y="584.3" width="15.75" height="17.7" fill="#fdebe9"/>
<rect x="153.65" y="584.3" width="15.25" height="17.7" fill="#ffffff"/>
<rect x="77.4" y="603.1" width="15.3" height="1.8" fill="#E41A1C"/>
<rect x="92.65" y="603.1" width="15.3" height="1.8" fill="#377EB8"/>
<rect x="107.9" y="603.1" width="15.3" height="1.8" fill="#4DAF4A"/>
<rect x="123.15" y="603.1" width="15.3" height="1.8" fill="#984EA3"/>
<rect x="138.4" y="603.1" width="15.3" height="1.8" fill="#F29403"/>
<rect x="153.65" y="603.1" width="15.25" height="1.8" fill="#F781BF"/>
<rect x="79.9" y="490.2" width="10.25" height="5.5" fill="#E41A1C"/>
<rect x="95.15" y="489.2" width="10.25" height="6.5" fill="#377EB8"/>
<rect x="110.4" y="487" width="10.25" height="8.7" fill="#4DAF4A"/>
<rect x="125.65" y="492.3" width="10.25" height="3.4" fill="#984EA3"/>
<rect x="140.9" y="490.9" width="10.25" height="4.8" fill="#F29403"/>
<rect x="156.15" y="490.4" width="10.25" height="5.3" fill="#F781BF"/>
<rect x="170.2" y="498.9" width="1.9" height="11.5" fill="#E41A1C"/>
<rect x="170.2" y="516.6" width="2.5" height="11.5" fill="#377EB8"/>
<rect x="170.2" y="534.3" width="8" height="11.5" fill="#4DAF4A"/>
<rect x="170.2" y="552" width="17.5" height="11.5" fill="#984EA3"/>
<rect x="170.2" y="569.7" width="1.9" height="11.5" fill="#F29403"/>
<rect x="170.2" y="587.4" width="3.4" height="11.5" fill="#F781BF"/>
<line x1="77.6" y1="486.7" x2="77.6" y2="495.3" stroke="#000" stroke-width="1"/>
<line x1="75" y1="494.85" x2="78.1" y2="494.85" stroke="#000" stroke-width="0.9"/>
<line x1="75" y1="492" x2="78.1" y2="492" stroke="#000" stroke-width="0.9"/>
<line x1="75" y1="489.15" x2="78.1" y2="489.15" stroke="#000" stroke-width="0.9"/>
<line x1="170" y1="602.2" x2="188.2" y2="602.2" stroke="#000" stroke-width="1.1"/>
<line x1="170.4" y1="602.2" x2="170.4" y2="603.7" stroke="#000" stroke-width="0.6"/>
<line x1="176" y1="602.2" x2="176" y2="603.7" stroke="#000" stroke-width="0.6"/>
<line x1="181.6" y1="602.2" x2="181.6" y2="603.7" stroke="#000" stroke-width="0.6"/>
<line x1="187.2" y1="602.2" x2="187.2" y2="603.7" stroke="#000" stroke-width="0.6"/>
<rect x="191.2" y="495.8" width="3.6" height="18" fill="#E41A1C"/>
<rect x="191.2" y="513.5" width="3.6" height="18" fill="#377EB8"/>
<rect x="191.2" y="531.2" width="3.6" height="18" fill="#4DAF4A"/>
<rect x="191.2" y="548.9" width="3.6" height="18" fill="#984EA3"/>
<rect x="191.2" y="566.6" width="3.6" height="18" fill="#F29403"/>
<rect x="191.2" y="584.3" width="3.6" height="18.1" fill="#F781BF"/>
<rect x="196.3" y="495.8" width="15.75" height="18.2" fill="#ffffff"/>
<rect x="211.55" y="495.8" width="15.75" height="18.2" fill="#ffffff"/>
<rect x="226.8" y="495.8" width="15.75" height="18.2" fill="#ffffff"/>
<rect x="242.05" y="495.8" width="15.75" height="18.2" fill="#ffffff"/>
<rect x="257.3" y="495.8" width="15.75" height="18.2" fill="#ffffff"/>
<rect x="272.55" y="495.8" width="15.25" height="18.2" fill="#ffffff"/>
<rect x="196.3" y="513.5" width="15.75" height="18.2" fill="#ffffff"/>
<rect x="211.55" y="513.5" width="15.75" height="18.2" fill="#ffffff"/>
<rect x="226.8" y="513.5" width="15.75" height="18.2" fill="#ffffff"/>
<rect x="242.05" y="513.5" width="15.75" height="18.2" fill="#ffffff"/>
<rect x="257.3" y="513.5" width="15.75" height="18.2" fill="#ffffff"/>
<rect x="272.55" y="513.5" width="15.25" height="18.2" fill="#ffffff"/>
<rect x="196.3" y="531.2" width="15.75" height="18.2" fill="#fdfcfe"/>
<rect x="211.55" y="531.2" width="15.75" height="18.2" fill="#fdfcfe"/>
<rect x="226.8" y="531.2" width="15.75" height="18.2" fill="#fbf7fd"/>
<rect x="242.05" y="531.2" width="15.75" height="18.2" fill="#fcf9fe"/>
<rect x="257.3" y="531.2" width="15.75" height="18.2" fill="#fcf9fe"/>
<rect x="272.55" y="531.2" width="15.25" height="18.2" fill="#fcf8fd"/>
<rect x="196.3" y="548.9" width="15.75" height="18.2" fill="#f9f5fe"/>
<rect x="211.55" y="548.9" width="15.75" height="18.2" fill="#faf6fe"/>
<rect x="226.8" y="548.9" width="15.75" height="18.2" fill="#e9d3f8"/>
<rect x="242.05" y="548.9" width="15.75" height="18.2" fill="#faf6fe"/>
<rect x="257.3" y="548.9" width="15.75" height="18.2" fill="#fdfbfe"/>
<rect x="272.55" y="548.9" width="15.25" height="18.2" fill="#dcb5f3"/>
<rect x="196.3" y="566.6" width="15.75" height="18.2" fill="#ffffff"/>
<rect x="211.55" y="566.6" width="15.75" height="18.2" fill="#ffffff"/>
<rect x="226.8" y="566.6" width="15.75" height="18.2" fill="#ffffff"/>
<rect x="242.05" y="566.6" width="15.75" height="18.2" fill="#fefdff"/>
<rect x="257.3" y="566.6" width="15.75" height="18.2" fill="#fefdff"/>
<rect x="272.55" y="566.6" width="15.25" height="18.2" fill="#ffffff"/>
<rect x="196.3" y="584.3" width="15.75" height="17.7" fill="#ffffff"/>
<rect x="211.55" y="584.3" width="15.75" height="17.7" fill="#ffffff"/>
<rect x="226.8" y="584.3" width="15.75" height="17.7" fill="#f9f3fd"/>
<rect x="242.05" y="584.3" width="15.75" height="17.7" fill="#fefdfe"/>
<rect x="257.3" y="584.3" width="15.75" height="17.7" fill="#f9f3fd"/>
<rect x="272.55" y="584.3" width="15.25" height="17.7" fill="#ffffff"/>
<rect x="196.3" y="603.1" width="15.3" height="1.8" fill="#E41A1C"/>
<rect x="211.55" y="603.1" width="15.3" height="1.8" fill="#377EB8"/>
<rect x="226.8" y="603.1" width="15.3" height="1.8" fill="#4DAF4A"/>
<rect x="242.05" y="603.1" width="15.3" height="1.8" fill="#984EA3"/>
<rect x="257.3" y="603.1" width="15.3" height="1.8" fill="#F29403"/>
<rect x="272.55" y="603.1" width="15.25" height="1.8" fill="#F781BF"/>
<rect x="198.8" y="493.8" width="10.25" height="1.9" fill="#E41A1C"/>
<rect x="214.05" y="493.9" width="10.25" height="1.8" fill="#377EB8"/>
<rect x="229.3" y="489.2" width="10.25" height="6.5" fill="#4DAF4A"/>
<rect x="244.55" y="492.7" width="10.25" height="3" fill="#984EA3"/>
<rect x="259.8" y="491.9" width="10.25" height="3.8" fill="#F29403"/>
<rect x="275.05" y="487" width="10.25" height="8.7" fill="#F781BF"/>
<rect x="289.1" y="498.9" width="0.8" height="11.5" fill="#E41A1C"/>
<rect x="289.1" y="516.6" width="0.8" height="11.5" fill="#377EB8"/>
<rect x="289.1" y="534.3" width="4" height="11.5" fill="#4DAF4A"/>
<rect x="289.1" y="552" width="17" height="11.5" fill="#984EA3"/>
<rect x="289.1" y="569.7" width="1.5" height="11.5" fill="#F29403"/>
<rect x="289.1" y="587.4" width="3.8" height="11.5" fill="#F781BF"/>
<line x1="196.5" y1="486.7" x2="196.5" y2="495.3" stroke="#000" stroke-width="1"/>
<line x1="193.9" y1="494.85" x2="197" y2="494.85" stroke="#000" stroke-width="0.9"/>
<line x1="193.9" y1="492" x2="197" y2="492" stroke="#000" stroke-width="0.9"/>
<line x1="193.9" y1="489.15" x2="197" y2="489.15" stroke="#000" stroke-width="0.9"/>
<line x1="288.9" y1="602.2" x2="307.1" y2="602.2" stroke="#000" stroke-width="1.1"/>
<line x1="289.3" y1="602.2" x2="289.3" y2="603.7" stroke="#000" stroke-width="0.6"/>
<line x1="294.9" y1="602.2" x2="294.9" y2="603.7" stroke="#000" stroke-width="0.6"/>
<line x1="300.5" y1="602.2" x2="300.5" y2="603.7" stroke="#000" stroke-width="0.6"/>
<line x1="306.1" y1="602.2" x2="306.1" y2="603.7" stroke="#000" stroke-width="0.6"/>
<text x="187" y="670.3" font-size="9.9" text-anchor="middle" transform="rotate(0.05 187 670.3)">Target (receiver)</text>
<rect x="53.8" y="608.6" width="5.1" height="41.2" fill="url(#gred)"/>
<text x="48.8" y="614.1" font-size="8.3" text-anchor="end" transform="rotate(0.05 48.8 614.1)">20</text>
<text x="48.8" y="622.85" font-size="8.3" text-anchor="end" transform="rotate(0.05 48.8 622.85)">15</text>
<text x="48.8" y="631.6" font-size="8.3" text-anchor="end" transform="rotate(0.05 48.8 631.6)">10</text>
<text x="48.8" y="640.35" font-size="8.3" text-anchor="end" transform="rotate(0.05 48.8 640.35)">5</text>
<text x="48.8" y="649.1" font-size="8.3" text-anchor="end" transform="rotate(0.05 48.8 649.1)">0</text>
<rect x="304" y="608.6" width="5.2" height="41.6" fill="url(#gpur)"/>
<text x="311.1" y="614.4" font-size="8.3" transform="rotate(0.05 311.1 614.4)">0.06</text>
<text x="311.1" y="625.55" font-size="8.3" transform="rotate(0.05 311.1 625.55)">0.04</text>
<text x="311.1" y="636.7" font-size="8.3" transform="rotate(0.05 311.1 636.7)">0.02</text>
<text x="311.1" y="647.85" font-size="8.3" transform="rotate(0.05 311.1 647.85)">0</text>
<path d="M382.7 515.2Q404.35 509.79 426 515.2" fill="none" stroke="#4DAF4A" stroke-width="1.15" stroke-opacity="0.72"/>
<path d="M426 515.2Q404.35 520.61 382.7 515.2" fill="none" stroke="#377EB8" stroke-width="1.15" stroke-opacity="0.72"/>
<path d="M382.7 515.2Q420.05 526.9 447.5 554.8" fill="none" stroke="#4DAF4A" stroke-width="1.15" stroke-opacity="0.72"/>
<path d="M447.5 554.8Q410.15 543.1 382.7 515.2" fill="none" stroke="#E41A1C" stroke-width="1.15" stroke-opacity="0.72"/>
<path d="M382.7 515.2Q414.29 549.54 426 594.7" fill="none" stroke="#4DAF4A" stroke-width="1.15" stroke-opacity="0.72"/>
<path d="M426 594.7Q394.41 560.36 382.7 515.2" fill="none" stroke="#F781BF" stroke-width="1.15" stroke-opacity="0.72"/>
<path d="M382.7 515.2Q392.6 554.8 382.7 594.4" fill="none" stroke="#4DAF4A" stroke-width="1.15" stroke-opacity="0.72"/>
<path d="M382.7 515.2Q376.83 537.81 361 555" fill="none" stroke="#4DAF4A" stroke-width="1.15" stroke-opacity="0.72"/>
<path d="M361 555Q366.88 532.39 382.7 515.2" fill="none" stroke="#984EA3" stroke-width="1.15" stroke-opacity="0.72"/>
<path d="M361 555Q388.52 526.98 426 515.2" fill="none" stroke="#984EA3" stroke-width="1.15" stroke-opacity="0.72"/>
<path d="M361 555Q404.23 544.09 447.5 554.8" fill="none" stroke="#984EA3" stroke-width="1.15" stroke-opacity="0.72"/>
<path d="M361 555Q398.46 566.73 426 594.7" fill="none" stroke="#984EA3" stroke-width="1.15" stroke-opacity="0.72"/>
<path d="M426 594.7Q388.54 582.98 361 555" fill="none" stroke="#F781BF" stroke-width="1.15" stroke-opacity="0.72"/>
<path d="M361 555Q376.78 571.99 382.7 594.4" fill="none" stroke="#984EA3" stroke-width="1.15" stroke-opacity="0.72"/>
<path d="M382.7 594.4Q366.93 577.41 361 555" fill="none" stroke="#F29403" stroke-width="1.15" stroke-opacity="0.72"/>
<path d="M426 515.2Q414.25 560.21 382.7 594.4" fill="none" stroke="#377EB8" stroke-width="1.15" stroke-opacity="0.72"/>
<path d="M426 594.7Q416.06 554.95 426 515.2" fill="none" stroke="#F781BF" stroke-width="1.15" stroke-opacity="0.72"/>
<path d="M447.5 554.8Q420.05 582.7 382.7 594.4" fill="none" stroke="#E41A1C" stroke-width="1.15" stroke-opacity="0.72"/>
<path d="M426 594.7Q404.31 599.96 382.7 594.4" fill="none" stroke="#F781BF" stroke-width="1.15" stroke-opacity="0.72"/>
<path d="M382.7 515.2C380.67 491.99 363.61 501.84 382.7 515.2" fill="none" stroke="#4DAF4A" stroke-width="1.15" stroke-opacity="0.72"/>
<path d="M426 515.2C442.38 503.73 427.74 495.28 426 515.2" fill="none" stroke="#377EB8" stroke-width="1.15" stroke-opacity="0.72"/>
<path d="M361 555C337.44 544.01 337.44 565.99 361 555" fill="none" stroke="#984EA3" stroke-width="1.15" stroke-opacity="0.72"/>
<path d="M382.7 594.4C363.86 607.59 380.7 617.31 382.7 594.4" fill="none" stroke="#F29403" stroke-width="1.15" stroke-opacity="0.72"/>
<circle cx="447.5" cy="554.8" r="1.7" fill="#E41A1C"/>
<circle cx="426" cy="515.2" r="2" fill="#377EB8"/>
<circle cx="382.7" cy="515.2" r="3.3" fill="#4DAF4A"/>
<circle cx="361" cy="555" r="4.3" fill="#984EA3"/>
<circle cx="382.7" cy="594.4" r="3.5" fill="#F29403"/>
<circle cx="426" cy="594.7" r="4.5" fill="#F781BF"/>
<text x="373.9" y="515.8" font-size="8.3" text-anchor="end" transform="rotate(0.05 373.9 515.8)">Epithelial</text>
<text x="433.7" y="520.9" font-size="8.3" transform="rotate(0.05 433.7 520.9)">DC</text>
<text x="360.4" y="546.5" font-size="8.3" text-anchor="end" transform="rotate(0.05 360.4 546.5)">Fibroblasts</text>
<text x="444.7" y="567.7" font-size="8.3" transform="rotate(0.05 444.7 567.7)">B cells</text>
<text x="437.7" y="597.5" font-size="8.3" transform="rotate(0.05 437.7 597.5)">T cells</text>
<text x="374.2" y="595.3" font-size="8.3" text-anchor="end" transform="rotate(0.05 374.2 595.3)">Macrophage</text>
<text x="396.2" y="495" font-size="9.65" text-anchor="middle" transform="rotate(0.05 396.2 495)">Interaction strength</text>
</g>
<g id="panel-d">
<text x="474" y="12" font-size="15.7" class="b" transform="rotate(0.05 474 12)" style="fill:#000;stroke:#000">d</text>
<text x="600.9" y="12.7" font-size="9.65" text-anchor="middle" transform="rotate(0.05 600 12.7)"><tspan style="fill:#E2102E;stroke:#E2102E;stroke-width:0.2px">PTM</tspan><tspan> VS </tspan><tspan style="fill:#64249A;stroke:#64249A;stroke-width:0.2px">PZ</tspan></text>
<rect x="536.1" y="19.87" width="126" height="5.3" fill="#F8766D"/>
<text x="526.3" y="25.4" font-size="8.2" text-anchor="end" transform="rotate(0.05 526.3 25.4)" style="fill:#F8766D;stroke:#F8766D;stroke-width:0.1px">SEMA4</text>
<line x1="527.7" y1="22.52" x2="529.2" y2="22.52" stroke="#8a8a8a" stroke-width="0.55"/>
<rect x="536.1" y="26.81" width="126" height="5.3" fill="#F8766D"/>
<text x="526.3" y="32.34" font-size="8.2" text-anchor="end" transform="rotate(0.05 526.3 32.34)" style="fill:#F8766D;stroke:#F8766D;stroke-width:0.1px">CD6</text>
<line x1="527.7" y1="29.46" x2="529.2" y2="29.46" stroke="#8a8a8a" stroke-width="0.55"/>
<rect x="536.1" y="33.76" width="126" height="5.3" fill="#F8766D"/>
<text x="526.3" y="39.29" font-size="8.2" text-anchor="end" transform="rotate(0.05 526.3 39.29)" style="fill:#F8766D;stroke:#F8766D;stroke-width:0.1px">DHEA</text>
<line x1="527.7" y1="36.41" x2="529.2" y2="36.41" stroke="#8a8a8a" stroke-width="0.55"/>
<rect x="536.1" y="40.7" width="126" height="5.3" fill="#F8766D"/>
<text x="526.3" y="46.23" font-size="8.2" text-anchor="end" transform="rotate(0.05 526.3 46.23)" style="fill:#F8766D;stroke:#F8766D;stroke-width:0.1px">SEMA3</text>
<line x1="527.7" y1="43.35" x2="529.2" y2="43.35" stroke="#8a8a8a" stroke-width="0.55"/>
<rect x="536.1" y="47.65" width="89.96" height="5.3" fill="#F8766D"/>
<rect x="626.06" y="47.65" width="36.04" height="5.3" fill="#5C1888"/>
<text x="526.3" y="53.18" font-size="8.2" text-anchor="end" transform="rotate(0.05 526.3 53.18)" style="fill:#1a1a1a;stroke:#1a1a1a">PECAM1</text>
<line x1="527.7" y1="50.3" x2="529.2" y2="50.3" stroke="#8a8a8a" stroke-width="0.55"/>
<rect x="536.1" y="54.59" width="72.83" height="5.3" fill="#F8766D"/>
<rect x="608.93" y="54.59" width="53.17" height="5.3" fill="#5C1888"/>
<text x="526.3" y="60.12" font-size="8.2" text-anchor="end" transform="rotate(0.05 526.3 60.12)" style="fill:#1a1a1a;stroke:#1a1a1a">FN1</text>
<line x1="527.7" y1="57.24" x2="529.2" y2="57.24" stroke="#8a8a8a" stroke-width="0.55"/>
<rect x="536.1" y="61.53" width="62.62" height="5.3" fill="#F8766D"/>
<rect x="598.72" y="61.53" width="63.38" height="5.3" fill="#5C1888"/>
<text x="526.3" y="67.06" font-size="8.2" text-anchor="end" transform="rotate(0.05 526.3 67.06)" style="fill:#1a1a1a;stroke:#1a1a1a">COLLAGEN</text>
<line x1="527.7" y1="64.18" x2="529.2" y2="64.18" stroke="#8a8a8a" stroke-width="0.55"/>
<rect x="536.1" y="68.48" width="64.76" height="5.3" fill="#F8766D"/>
<rect x="600.86" y="68.48" width="61.24" height="5.3" fill="#5C1888"/>
<text x="526.3" y="74.01" font-size="8.2" text-anchor="end" transform="rotate(0.05 526.3 74.01)" style="fill:#1a1a1a;stroke:#1a1a1a">CD45</text>
<line x1="527.7" y1="71.13" x2="529.2" y2="71.13" stroke="#8a8a8a" stroke-width="0.55"/>
<rect x="536.1" y="75.42" width="57.71" height="5.3" fill="#F8766D"/>
<rect x="593.81" y="75.42" width="68.29" height="5.3" fill="#5C1888"/>
<text x="526.3" y="80.95" font-size="8.2" text-anchor="end" transform="rotate(0.05 526.3 80.95)" style="fill:#1a1a1a;stroke:#1a1a1a">CADM</text>
<line x1="527.7" y1="78.07" x2="529.2" y2="78.07" stroke="#8a8a8a" stroke-width="0.55"/>
<rect x="536.1" y="82.37" width="53.8" height="5.3" fill="#F8766D"/>
<rect x="589.9" y="82.37" width="72.2" height="5.3" fill="#5C1888"/>
<text x="526.3" y="87.9" font-size="8.2" text-anchor="end" transform="rotate(0.05 526.3 87.9)" style="fill:#1a1a1a;stroke:#1a1a1a">LAMININ</text>
<line x1="527.7" y1="85.02" x2="529.2" y2="85.02" stroke="#8a8a8a" stroke-width="0.55"/>
<rect x="536.1" y="89.31" width="47.75" height="5.3" fill="#F8766D"/>
<rect x="583.85" y="89.31" width="78.25" height="5.3" fill="#5C1888"/>
<text x="526.3" y="94.84" font-size="8.2" text-anchor="end" transform="rotate(0.05 526.3 94.84)" style="fill:#1a1a1a;stroke:#1a1a1a">NEGR</text>
<line x1="527.7" y1="91.96" x2="529.2" y2="91.96" stroke="#8a8a8a" stroke-width="0.55"/>
<rect x="536.1" y="96.25" width="35.91" height="5.3" fill="#F8766D"/>
<rect x="572.01" y="96.25" width="90.09" height="5.3" fill="#5C1888"/>
<text x="526.3" y="101.78" font-size="8.2" text-anchor="end" transform="rotate(0.05 526.3 101.78)" style="fill:#1a1a1a;stroke:#1a1a1a">APP</text>
<line x1="527.7" y1="98.9" x2="529.2" y2="98.9" stroke="#8a8a8a" stroke-width="0.55"/>
<rect x="536.1" y="103.2" width="35.91" height="5.3" fill="#F8766D"/>
<rect x="572.01" y="103.2" width="90.09" height="5.3" fill="#5C1888"/>
<text x="526.3" y="108.73" font-size="8.2" text-anchor="end" transform="rotate(0.05 526.3 108.73)" style="fill:#1a1a1a;stroke:#1a1a1a">PDGF</text>
<line x1="527.7" y1="105.85" x2="529.2" y2="105.85" stroke="#8a8a8a" stroke-width="0.55"/>
<rect x="536.1" y="110.14" width="20.16" height="5.3" fill="#F8766D"/>
<rect x="556.26" y="110.14" width="105.84" height="5.3" fill="#5C1888"/>
<text x="526.3" y="115.67" font-size="8.2" text-anchor="end" transform="rotate(0.05 526.3 115.67)" style="fill:#1a1a1a;stroke:#1a1a1a">PTPRM</text>
<line x1="527.7" y1="112.79" x2="529.2" y2="112.79" stroke="#8a8a8a" stroke-width="0.55"/>
<rect x="536.1" y="117.09" width="17.95" height="5.3" fill="#F8766D"/>
<rect x="554.06" y="117.09" width="108.05" height="5.3" fill="#5C1888"/>
<text x="526.3" y="122.62" font-size="8.2" text-anchor="end" transform="rotate(0.05 526.3 122.62)" style="fill:#1a1a1a;stroke:#1a1a1a">CDH</text>
<line x1="527.7" y1="119.74" x2="529.2" y2="119.74" stroke="#8a8a8a" stroke-width="0.55"/>
<rect x="536.1" y="124.03" width="12.22" height="5.3" fill="#F8766D"/>
<rect x="548.32" y="124.03" width="113.78" height="5.3" fill="#5C1888"/>
<text x="526.3" y="129.56" font-size="8.2" text-anchor="end" transform="rotate(0.05 526.3 129.56)" style="fill:#1a1a1a;stroke:#1a1a1a">SLIT</text>
<line x1="527.7" y1="126.68" x2="529.2" y2="126.68" stroke="#8a8a8a" stroke-width="0.55"/>
<rect x="536.1" y="130.97" width="6.05" height="5.3" fill="#F8766D"/>
<rect x="542.15" y="130.97" width="119.95" height="5.3" fill="#5C1888"/>
<text x="526.3" y="136.5" font-size="8.2" text-anchor="end" transform="rotate(0.05 526.3 136.5)" style="fill:#1a1a1a;stroke:#1a1a1a">EPHA</text>
<line x1="527.7" y1="133.62" x2="529.2" y2="133.62" stroke="#8a8a8a" stroke-width="0.55"/>
<rect x="536.1" y="137.92" width="126" height="5.3" fill="#5C1888"/>
<text x="526.3" y="143.45" font-size="8.2" text-anchor="end" transform="rotate(0.05 526.3 143.45)" style="fill:#54248C;stroke:#54248C">CD99</text>
<line x1="527.7" y1="140.57" x2="529.2" y2="140.57" stroke="#8a8a8a" stroke-width="0.55"/>
<rect x="536.1" y="144.86" width="126" height="5.3" fill="#5C1888"/>
<text x="526.3" y="150.39" font-size="8.2" text-anchor="end" transform="rotate(0.05 526.3 150.39)" style="fill:#54248C;stroke:#54248C">THBS</text>
<line x1="527.7" y1="147.51" x2="529.2" y2="147.51" stroke="#8a8a8a" stroke-width="0.55"/>
<rect x="536.1" y="151.81" width="126" height="5.3" fill="#5C1888"/>
<text x="526.3" y="157.34" font-size="8.2" text-anchor="end" transform="rotate(0.05 526.3 157.34)" style="fill:#54248C;stroke:#54248C">NRXN</text>
<line x1="527.7" y1="154.46" x2="529.2" y2="154.46" stroke="#8a8a8a" stroke-width="0.55"/>
<rect x="536.1" y="158.75" width="126" height="5.3" fill="#5C1888"/>
<text x="526.3" y="164.28" font-size="8.2" text-anchor="end" transform="rotate(0.05 526.3 164.28)" style="fill:#54248C;stroke:#54248C">UNC5</text>
<line x1="527.7" y1="161.4" x2="529.2" y2="161.4" stroke="#8a8a8a" stroke-width="0.55"/>
<rect x="536.1" y="165.69" width="126" height="5.3" fill="#5C1888"/>
<text x="526.3" y="171.22" font-size="8.2" text-anchor="end" transform="rotate(0.05 526.3 171.22)" style="fill:#54248C;stroke:#54248C">FLRT</text>
<line x1="527.7" y1="168.34" x2="529.2" y2="168.34" stroke="#8a8a8a" stroke-width="0.55"/>
<rect x="536.1" y="172.64" width="126" height="5.3" fill="#5C1888"/>
<text x="526.3" y="178.17" font-size="8.2" text-anchor="end" transform="rotate(0.05 526.3 178.17)" style="fill:#54248C;stroke:#54248C">ADGRL</text>
<line x1="527.7" y1="175.29" x2="529.2" y2="175.29" stroke="#8a8a8a" stroke-width="0.55"/>
<rect x="536.1" y="179.58" width="126" height="5.3" fill="#5C1888"/>
<text x="526.3" y="185.11" font-size="8.2" text-anchor="end" transform="rotate(0.05 526.3 185.11)" style="fill:#54248C;stroke:#54248C">CNTN</text>
<line x1="527.7" y1="182.23" x2="529.2" y2="182.23" stroke="#8a8a8a" stroke-width="0.55"/>
<rect x="536.1" y="186.53" width="126" height="5.3" fill="#5C1888"/>
<text x="526.3" y="192.06" font-size="8.2" text-anchor="end" transform="rotate(0.05 526.3 192.06)" style="fill:#54248C;stroke:#54248C">PTPR</text>
<line x1="527.7" y1="189.18" x2="529.2" y2="189.18" stroke="#8a8a8a" stroke-width="0.55"/>
<line x1="599.05" y1="22.7" x2="599.05" y2="192.9" stroke="#878787" stroke-width="1.7" stroke-dasharray="5.6 6.1"/>
<line x1="529.8" y1="18.5" x2="529.8" y2="193.6" stroke="#000" stroke-width="1.4"/>
<line x1="529.1" y1="193.05" x2="667.6" y2="193.05" stroke="#000" stroke-width="1.4"/>
<text x="538.6" y="202.8" font-size="8.3" text-anchor="middle" transform="rotate(0.05 538.6 202.8)" style="fill:#333;stroke:#333">0.00</text>
<text x="570" y="202.8" font-size="8.3" text-anchor="middle" transform="rotate(0.05 570 202.8)" style="fill:#333;stroke:#333">0.25</text>
<text x="601.4" y="202.8" font-size="8.3" text-anchor="middle" transform="rotate(0.05 601.4 202.8)" style="fill:#333;stroke:#333">0.50</text>
<text x="632.8" y="202.8" font-size="8.3" text-anchor="middle" transform="rotate(0.05 632.8 202.8)" style="fill:#333;stroke:#333">0.75</text>
<text x="664.2" y="202.8" font-size="8.3" text-anchor="middle" transform="rotate(0.05 664.2 202.8)" style="fill:#333;stroke:#333">1.00</text>
<text x="600.6" y="213" font-size="9.55" text-anchor="middle" transform="rotate(0.05 600.6 213)">Relative information flow</text>
</g>
<g id="panel-e">
<text x="474" y="228.5" font-size="15.7" class="b" transform="rotate(0.05 474 228.5)" style="fill:#000;stroke:#000">e</text>
<text x="599.2" y="231.75" font-size="9.65" text-anchor="middle" transform="rotate(0.05 600 231.75)"><tspan style="fill:#E2102E;stroke:#E2102E;stroke-width:0.2px">PTM</tspan><tspan> VS </tspan><tspan style="fill:#19C3E6;stroke:#19C3E6;stroke-width:0.2px">TZ</tspan></text>
<rect x="536.1" y="238" width="126" height="6.1" fill="#F8766D"/>
<text x="526.3" y="243.45" font-size="8.2" text-anchor="end" transform="rotate(0.05 526.3 243.45)" style="fill:#F8766D;stroke:#F8766D;stroke-width:0.1px">SEMA4</text>
<line x1="527.7" y1="241.05" x2="529.2" y2="241.05" stroke="#8a8a8a" stroke-width="0.55"/>
<rect x="536.1" y="245.85" width="126" height="6.1" fill="#F8766D"/>
<text x="526.3" y="251.35" font-size="8.2" text-anchor="end" transform="rotate(0.05 526.3 251.35)" style="fill:#F8766D;stroke:#F8766D;stroke-width:0.1px">CD6</text>
<line x1="527.7" y1="248.91" x2="529.2" y2="248.91" stroke="#8a8a8a" stroke-width="0.55"/>
<rect x="536.1" y="253.71" width="126" height="6.1" fill="#F8766D"/>
<text x="526.3" y="259.25" font-size="8.2" text-anchor="end" transform="rotate(0.05 526.3 259.25)" style="fill:#F8766D;stroke:#F8766D;stroke-width:0.1px">DHEA</text>
<line x1="527.7" y1="256.76" x2="529.2" y2="256.76" stroke="#8a8a8a" stroke-width="0.55"/>
<rect x="536.1" y="261.56" width="126" height="6.1" fill="#F8766D"/>
<text x="526.3" y="267.15" font-size="8.2" text-anchor="end" transform="rotate(0.05 526.3 267.15)" style="fill:#F8766D;stroke:#F8766D;stroke-width:0.1px">PDGF</text>
<line x1="527.7" y1="264.62" x2="529.2" y2="264.62" stroke="#8a8a8a" stroke-width="0.55"/>
<rect x="536.1" y="269.42" width="126" height="6.1" fill="#F8766D"/>
<text x="526.3" y="275.05" font-size="8.2" text-anchor="end" transform="rotate(0.05 526.3 275.05)" style="fill:#F8766D;stroke:#F8766D;stroke-width:0.1px">SEMA3</text>
<line x1="527.7" y1="272.47" x2="529.2" y2="272.47" stroke="#8a8a8a" stroke-width="0.55"/>
<rect x="536.1" y="277.28" width="126" height="6.1" fill="#F8766D"/>
<text x="526.3" y="282.95" font-size="8.2" text-anchor="end" transform="rotate(0.05 526.3 282.95)" style="fill:#F8766D;stroke:#F8766D;stroke-width:0.1px">PECAM1</text>
<line x1="527.7" y1="280.33" x2="529.2" y2="280.33" stroke="#8a8a8a" stroke-width="0.55"/>
<rect x="536.1" y="285.13" width="75.98" height="6.1" fill="#F8766D"/>
<rect x="612.08" y="285.13" width="50.02" height="6.1" fill="#00BFC4"/>
<text x="526.3" y="290.85" font-size="8.2" text-anchor="end" transform="rotate(0.05 526.3 290.85)" style="fill:#1a1a1a;stroke:#1a1a1a">CD45</text>
<line x1="527.7" y1="288.18" x2="529.2" y2="288.18" stroke="#8a8a8a" stroke-width="0.55"/>
<rect x="536.1" y="292.99" width="68.92" height="6.1" fill="#F8766D"/>
<rect x="605.02" y="292.99" width="57.08" height="6.1" fill="#00BFC4"/>
<text x="526.3" y="298.75" font-size="8.2" text-anchor="end" transform="rotate(0.05 526.3 298.75)" style="fill:#1a1a1a;stroke:#1a1a1a">CADM</text>
<line x1="527.7" y1="296.04" x2="529.2" y2="296.04" stroke="#8a8a8a" stroke-width="0.55"/>
<rect x="536.1" y="300.84" width="64.13" height="6.1" fill="#F8766D"/>
<rect x="600.23" y="300.84" width="61.87" height="6.1" fill="#00BFC4"/>
<text x="526.3" y="306.65" font-size="8.2" text-anchor="end" transform="rotate(0.05 526.3 306.65)" style="fill:#1a1a1a;stroke:#1a1a1a">COLLAGEN</text>
<line x1="527.7" y1="303.89" x2="529.2" y2="303.89" stroke="#8a8a8a" stroke-width="0.55"/>
<rect x="536.1" y="308.69" width="64.13" height="6.1" fill="#F8766D"/>
<rect x="600.23" y="308.69" width="61.87" height="6.1" fill="#00BFC4"/>
<text x="526.3" y="314.55" font-size="8.2" text-anchor="end" transform="rotate(0.05 526.3 314.55)" style="fill:#1a1a1a;stroke:#1a1a1a">FN1</text>
<line x1="527.7" y1="311.75" x2="529.2" y2="311.75" stroke="#8a8a8a" stroke-width="0.55"/>
<rect x="536.1" y="316.55" width="54.56" height="6.1" fill="#F8766D"/>
<rect x="590.66" y="316.55" width="71.44" height="6.1" fill="#00BFC4"/>
<text x="526.3" y="322.45" font-size="8.2" text-anchor="end" transform="rotate(0.05 526.3 322.45)" style="fill:#1a1a1a;stroke:#1a1a1a">LAMININ</text>
<line x1="527.7" y1="319.6" x2="529.2" y2="319.6" stroke="#8a8a8a" stroke-width="0.55"/>
<rect x="536.1" y="324.41" width="47.12" height="6.1" fill="#F8766D"/>
<rect x="583.22" y="324.41" width="78.88" height="6.1" fill="#00BFC4"/>
<text x="526.3" y="330.35" font-size="8.2" text-anchor="end" transform="rotate(0.05 526.3 330.35)" style="fill:#1a1a1a;stroke:#1a1a1a">PTPRM</text>
<line x1="527.7" y1="327.46" x2="529.2" y2="327.46" stroke="#8a8a8a" stroke-width="0.55"/>
<rect x="536.1" y="332.26" width="44.86" height="6.1" fill="#F8766D"/>
<rect x="580.96" y="332.26" width="81.14" height="6.1" fill="#00BFC4"/>
<text x="526.3" y="338.25" font-size="8.2" text-anchor="end" transform="rotate(0.05 526.3 338.25)" style="fill:#1a1a1a;stroke:#1a1a1a">APP</text>
<line x1="527.7" y1="335.31" x2="529.2" y2="335.31" stroke="#8a8a8a" stroke-width="0.55"/>
<rect x="536.1" y="340.12" width="36.92" height="6.1" fill="#F8766D"/>
<rect x="573.02" y="340.12" width="89.08" height="6.1" fill="#00BFC4"/>
<text x="526.3" y="346.15" font-size="8.2" text-anchor="end" transform="rotate(0.05 526.3 346.15)" style="fill:#1a1a1a;stroke:#1a1a1a">NEGR</text>
<line x1="527.7" y1="343.17" x2="529.2" y2="343.17" stroke="#8a8a8a" stroke-width="0.55"/>
<rect x="536.1" y="347.97" width="26.33" height="6.1" fill="#F8766D"/>
<rect x="562.43" y="347.97" width="99.67" height="6.1" fill="#00BFC4"/>
<text x="526.3" y="354.05" font-size="8.2" text-anchor="end" transform="rotate(0.05 526.3 354.05)" style="fill:#1a1a1a;stroke:#1a1a1a">CDH</text>
<line x1="527.7" y1="351.02" x2="529.2" y2="351.02" stroke="#8a8a8a" stroke-width="0.55"/>
<rect x="536.1" y="355.82" width="14.49" height="6.1" fill="#F8766D"/>
<rect x="550.59" y="355.82" width="111.51" height="6.1" fill="#00BFC4"/>
<text x="526.3" y="361.95" font-size="8.2" text-anchor="end" transform="rotate(0.05 526.3 361.95)" style="fill:#1a1a1a;stroke:#1a1a1a">SLIT</text>
<line x1="527.7" y1="358.88" x2="529.2" y2="358.88" stroke="#8a8a8a" stroke-width="0.55"/>
<rect x="536.1" y="363.68" width="12.22" height="6.1" fill="#F8766D"/>
<rect x="548.32" y="363.68" width="113.78" height="6.1" fill="#00BFC4"/>
<text x="526.3" y="369.85" font-size="8.2" text-anchor="end" transform="rotate(0.05 526.3 369.85)" style="fill:#1a1a1a;stroke:#1a1a1a">EPHA</text>
<line x1="527.7" y1="366.73" x2="529.2" y2="366.73" stroke="#8a8a8a" stroke-width="0.55"/>
<rect x="536.1" y="371.54" width="126" height="6.1" fill="#00BFC4"/>
<text x="526.3" y="377.75" font-size="8.2" text-anchor="end" transform="rotate(0.05 526.3 377.75)" style="fill:#19B5B9;stroke:#19B5B9">FLRT</text>
<line x1="527.7" y1="374.59" x2="529.2" y2="374.59" stroke="#8a8a8a" stroke-width="0.55"/>
<rect x="536.1" y="379.39" width="126" height="6.1" fill="#00BFC4"/>
<text x="526.3" y="385.65" font-size="8.2" text-anchor="end" transform="rotate(0.05 526.3 385.65)" style="fill:#19B5B9;stroke:#19B5B9">UNC5</text>
<line x1="527.7" y1="382.44" x2="529.2" y2="382.44" stroke="#8a8a8a" stroke-width="0.55"/>
<rect x="536.1" y="387.25" width="126" height="6.1" fill="#00BFC4"/>
<text x="526.3" y="393.55" font-size="8.2" text-anchor="end" transform="rotate(0.05 526.3 393.55)" style="fill:#19B5B9;stroke:#19B5B9">ADGRL</text>
<line x1="527.7" y1="390.3" x2="529.2" y2="390.3" stroke="#8a8a8a" stroke-width="0.55"/>
<rect x="536.1" y="395.1" width="126" height="6.1" fill="#00BFC4"/>
<text x="526.3" y="401.45" font-size="8.2" text-anchor="end" transform="rotate(0.05 526.3 401.45)" style="fill:#19B5B9;stroke:#19B5B9">CNTN</text>
<line x1="527.7" y1="398.15" x2="529.2" y2="398.15" stroke="#8a8a8a" stroke-width="0.55"/>
<rect x="536.1" y="402.95" width="126" height="6.1" fill="#00BFC4"/>
<text x="526.3" y="409.35" font-size="8.2" text-anchor="end" transform="rotate(0.05 526.3 409.35)" style="fill:#19B5B9;stroke:#19B5B9">PTPR</text>
<line x1="527.7" y1="406" x2="529.2" y2="406" stroke="#8a8a8a" stroke-width="0.55"/>
<line x1="599.05" y1="240.15" x2="599.05" y2="410.9" stroke="#878787" stroke-width="1.7" stroke-dasharray="5.6 6.1"/>
<line x1="529.8" y1="235.9" x2="529.8" y2="411.6" stroke="#000" stroke-width="1.4"/>
<line x1="529.1" y1="411.05" x2="667.6" y2="411.05" stroke="#000" stroke-width="1.4"/>
<text x="538.6" y="420.8" font-size="8.3" text-anchor="middle" transform="rotate(0.05 538.6 420.8)" style="fill:#333;stroke:#333">0.00</text>
<text x="570" y="420.8" font-size="8.3" text-anchor="middle" transform="rotate(0.05 570 420.8)" style="fill:#333;stroke:#333">0.25</text>
<text x="601.4" y="420.8" font-size="8.3" text-anchor="middle" transform="rotate(0.05 601.4 420.8)" style="fill:#333;stroke:#333">0.50</text>
<text x="632.8" y="420.8" font-size="8.3" text-anchor="middle" transform="rotate(0.05 632.8 420.8)" style="fill:#333;stroke:#333">0.75</text>
<text x="664.2" y="420.8" font-size="8.3" text-anchor="middle" transform="rotate(0.05 664.2 420.8)" style="fill:#333;stroke:#333">1.00</text>
<text x="598.2" y="430.9" font-size="9.55" text-anchor="middle" transform="rotate(0.05 598.2 430.9)">Relative information flow</text>
</g>
<g id="panel-f">
<text x="473" y="448.5" font-size="15.7" class="b" transform="rotate(0.05 473 448.5)" style="fill:#000;stroke:#000">f</text>
<text x="585.9" y="455.8" font-size="9.65" text-anchor="middle" transform="rotate(0.05 585.9 455.8)">TCGA</text>
<text x="532.7" y="464.4" font-size="8.3" text-anchor="end" transform="rotate(0.05 532.7 464.4)" style="fill:#333;stroke:#333">1.00</text>
<text x="532.7" y="484.1" font-size="8.3" text-anchor="end" transform="rotate(0.05 532.7 484.1)" style="fill:#333;stroke:#333">0.75</text>
<text x="532.7" y="503.8" font-size="8.3" text-anchor="end" transform="rotate(0.05 532.7 503.8)" style="fill:#333;stroke:#333">0.50</text>
<text x="532.7" y="523.5" font-size="8.3" text-anchor="end" transform="rotate(0.05 532.7 523.5)" style="fill:#333;stroke:#333">0.25</text>
<text x="532.7" y="543.2" font-size="8.3" text-anchor="end" transform="rotate(0.05 532.7 543.2)" style="fill:#333;stroke:#333">0.00</text>
<text x="541.6" y="553.9" font-size="8.3" text-anchor="middle" transform="rotate(0.05 541.6 553.9)" style="fill:#333;stroke:#333">0</text>
<text x="571.35" y="553.9" font-size="8.3" text-anchor="middle" transform="rotate(0.05 571.35 553.9)" style="fill:#333;stroke:#333">20</text>
<text x="601.1" y="553.9" font-size="8.3" text-anchor="middle" transform="rotate(0.05 601.1 553.9)" style="fill:#333;stroke:#333">40</text>
<text x="630.85" y="553.9" font-size="8.3" text-anchor="middle" transform="rotate(0.05 630.85 553.9)" style="fill:#333;stroke:#333">60</text>
<text x="584.8" y="562.2" font-size="8.3" text-anchor="middle" transform="rotate(0.05 584.8 562.2)">Time (Months)</text>
<polyline points="540.86,462.26 544.02,462.26 544.37,467.52 544.37,471.9 547.17,471.9 547.17,474.53 548.92,474.53 549.62,485.04 551.02,495.55 551.37,502.56 555.93,502.56 556.28,506.94 557.15,509.57 558.03,513.07 561.18,513.07 561.89,516.57 563.64,520.95 567.67,520.95 568.19,523.58 571.7,523.58 572.05,530.94 576.95,530.94 577.3,536.19 589.92,536.19 590.44,539 607.96,539 607.96,541.45" fill="none" stroke="#F72B2D" stroke-width="1.5"/>
<polyline points="540.86,462.26 544.37,462.26 544.37,467.17 546.64,467.17 546.64,472.78 547.52,472.78 547.52,477.15 549.62,477.15 549.62,479.43 556.63,479.43 558.03,484.16 572.92,484.16 574.15,490.29 578.18,490.29 579.05,495.2 585.19,495.2 586.41,500.81 589.57,500.81 590.44,503.43 592.19,503.43 592.72,506.41 598.68,506.41 599.55,510.97 605.33,510.97 605.86,515.87 614.09,515.87 614.44,524.28 633.36,524.28" fill="none" stroke="#1FA67A" stroke-width="1.45"/>
<line x1="536.7" y1="458.8" x2="536.7" y2="546.1" stroke="#000" stroke-width="1.2"/>
<line x1="536.1" y1="545.5" x2="633.4" y2="545.5" stroke="#000" stroke-width="1.2"/>
<line x1="572.7" y1="465.8" x2="578.2" y2="465.8" stroke="#F72B2D" stroke-width="1.5"/>
<text x="580.5" y="468.6" font-size="8.3" transform="rotate(0.05 580.5 468.6)">High signature score</text>
<line x1="572.7" y1="475.7" x2="578.2" y2="475.7" stroke="#1FA67A" stroke-width="1.45"/>
<text x="580.5" y="478.4" font-size="8.3" transform="rotate(0.05 580.5 478.4)">Low signature score</text>
<text x="538.4" y="542.9" font-size="8.3" transform="rotate(0.05 538.4 542.9)">P &lt; 0.0001</text>
<text x="613.2" y="509.6" font-size="7.6" transform="rotate(0.05 613.2 509.6)" style="fill:#2BA35D;stroke:#2BA35D;stroke-width:0.2px">n = 249</text>
<text x="581.9" y="534.2" font-size="7.6" transform="rotate(0.05 581.9 534.2)" style="fill:#E5283C;stroke:#E5283C;stroke-width:0.2px">n = 248</text>
<text x="582.3" y="576.4" font-size="9.65" text-anchor="middle" transform="rotate(0.05 582.3 576.4)">CPGEA</text>
<text x="532.7" y="580" font-size="8.3" text-anchor="end" transform="rotate(0.05 532.7 580)" style="fill:#5a5a5a;stroke:#5a5a5a">1.00</text>
<text x="532.7" y="599.7" font-size="8.3" text-anchor="end" transform="rotate(0.05 532.7 599.7)" style="fill:#5a5a5a;stroke:#5a5a5a">0.75</text>
<text x="532.7" y="619.4" font-size="8.3" text-anchor="end" transform="rotate(0.05 532.7 619.4)" style="fill:#5a5a5a;stroke:#5a5a5a">0.50</text>
<text x="532.7" y="639.1" font-size="8.3" text-anchor="end" transform="rotate(0.05 532.7 639.1)" style="fill:#5a5a5a;stroke:#5a5a5a">0.25</text>
<text x="532.7" y="658.8" font-size="8.3" text-anchor="end" transform="rotate(0.05 532.7 658.8)" style="fill:#5a5a5a;stroke:#5a5a5a">0.00</text>
<text x="542.2" y="667.7" font-size="8.3" text-anchor="middle" transform="rotate(0.05 542.2 667.7)" style="fill:#333;stroke:#333">0</text>
<text x="564.4" y="667.7" font-size="8.3" text-anchor="middle" transform="rotate(0.05 564.4 667.7)" style="fill:#333;stroke:#333">20</text>
<text x="586.6" y="667.7" font-size="8.3" text-anchor="middle" transform="rotate(0.05 586.6 667.7)" style="fill:#333;stroke:#333">40</text>
<text x="608.8" y="667.7" font-size="8.3" text-anchor="middle" transform="rotate(0.05 608.8 667.7)" style="fill:#333;stroke:#333">60</text>
<text x="631" y="667.7" font-size="8.3" text-anchor="middle" transform="rotate(0.05 631 667.7)" style="fill:#333;stroke:#333">80</text>
<text x="584.8" y="676" font-size="8.3" text-anchor="middle" transform="rotate(0.05 584.8 676)">Time (Months)</text>
<polyline points="540.54,577.08 541.42,581.9 542.08,585.18 543.17,588.47 544.92,591.75 546.46,593.94 549.74,595.03 550.18,599.41 552.37,601.16 554.12,602.26 574.26,602.26 574.92,604.89 583.24,604.89 583.68,612.11 593.1,612.11 593.53,617.37 616.52,617.37" fill="none" stroke="#F72B2D" stroke-width="1.5"/>
<polyline points="540.98,576.42 542.08,576.42 542.73,579.71 544.27,581.9 557.4,581.9 558.5,585.18 562.88,585.18 563.32,586.71 566.16,586.71 566.82,588.47 591.34,588.47 591.34,595.03 620.9,595.03 620.9,625.25" fill="none" stroke="#1FA67A" stroke-width="1.45"/>
<line x1="536.6" y1="572.7" x2="536.6" y2="659.8" stroke="#000" stroke-width="1.2"/>
<line x1="536" y1="659.2" x2="633" y2="659.2" stroke="#000" stroke-width="1.2"/>
<text x="542.7" y="641" font-size="8.3" transform="rotate(0.05 542.7 641)">P = 0.0051</text>
<text x="597.5" y="593.3" font-size="7.6" transform="rotate(0.05 597.5 593.3)" style="fill:#2BA35D;stroke:#2BA35D;stroke-width:0.2px">n = 60</text>
<text x="556.3" y="613.2" font-size="7.6" transform="rotate(0.05 556.3 613.2)" style="fill:#E5283C;stroke:#E5283C;stroke-width:0.2px">n = 60</text>
</g>
<g id="panel-g">
<text x="1.5" y="690.9" font-size="15.7" class="b" transform="rotate(0.05 1.5 690.9)" style="fill:#000;stroke:#000">g</text>
<text x="23.6" y="711.7" font-size="8.3" text-anchor="end" transform="rotate(0.05 23.6 711.7)" style="fill:#4d4d4d;stroke:#4d4d4d">100</text>
<text x="23.6" y="730.32" font-size="8.3" text-anchor="end" transform="rotate(0.05 23.6 730.32)" style="fill:#4d4d4d;stroke:#4d4d4d">75</text>
<text x="23.6" y="748.94" font-size="8.3" text-anchor="end" transform="rotate(0.05 23.6 748.94)" style="fill:#4d4d4d;stroke:#4d4d4d">50</text>
<text x="23.6" y="767.56" font-size="8.3" text-anchor="end" transform="rotate(0.05 23.6 767.56)" style="fill:#4d4d4d;stroke:#4d4d4d">25</text>
<text x="23.6" y="786.18" font-size="8.3" text-anchor="end" transform="rotate(0.05 23.6 786.18)" style="fill:#4d4d4d;stroke:#4d4d4d">0</text>
<text x="16.9" y="698.7" font-size="8.3" textLength="80" lengthAdjust="spacingAndGlyphs" transform="rotate(0.05 16.9 698.7)">Adrenocortical cancer</text>
<polyline points="29.96,709.22 31.77,709.22 32.32,717.76 33.59,723.2 34.13,726.84 37.22,726.84 37.76,735.91 38.49,744.99 39.03,750.44 40.31,750.44 40.85,755.88 41.76,757.7 42.3,766.78 42.67,779.49" fill="none" stroke="#F72B2D" stroke-width="1.5"/>
<polyline points="29.96,709.22 42.67,709.22 42.67,714.49 44.48,714.49 44.48,720.12 50.84,720.12 50.84,725.02 52.65,725.02 52.65,730.83 55.37,730.83 55.37,735.91 57.19,735.91 57.19,747.17 60.82,747.17 60.82,752.25 67.54,752.25 67.54,758.61 68.99,758.61 68.99,764.05 70.44,764.05 70.44,768.96 78.43,768.96 78.43,774.4 85.33,774.4 85.33,779.49" fill="none" stroke="#1FA67A" stroke-width="1.45"/>
<line x1="26.5" y1="706" x2="26.5" y2="783.9" stroke="#000" stroke-width="1.15"/>
<line x1="26" y1="783.3" x2="88.6" y2="783.3" stroke="#000" stroke-width="1.15"/>
<text x="30" y="792.5" font-size="8.3" text-anchor="middle" transform="rotate(0.05 30 792.5)" style="fill:#3a3a3a;stroke:#3a3a3a">0</text>
<text x="43.6" y="792.5" font-size="8.3" text-anchor="middle" transform="rotate(0.05 43.6 792.5)" style="fill:#3a3a3a;stroke:#3a3a3a">20</text>
<text x="57.2" y="792.5" font-size="8.3" text-anchor="middle" transform="rotate(0.05 57.2 792.5)" style="fill:#3a3a3a;stroke:#3a3a3a">40</text>
<text x="70.8" y="792.5" font-size="8.3" text-anchor="middle" transform="rotate(0.05 70.8 792.5)" style="fill:#3a3a3a;stroke:#3a3a3a">60</text>
<text x="84.4" y="792.5" font-size="8.3" text-anchor="middle" transform="rotate(0.05 84.4 792.5)" style="fill:#3a3a3a;stroke:#3a3a3a">80</text>
<text x="57.5" y="802.5" font-size="8.3" text-anchor="middle" transform="rotate(0.05 57.5 802.5)">Time (Months)</text>
<text x="56.8" y="812.5" font-size="8.3" text-anchor="middle" transform="rotate(0.05 56.8 812.5)">P &lt; 0.0001</text>
<text x="67.2" y="719.2" font-size="7.6" transform="rotate(0.05 67.2 719.2)" style="fill:#E5283C;stroke:#E5283C;stroke-width:0.2px">n = 46</text>
<text x="67.2" y="727.9" font-size="7.6" transform="rotate(0.05 67.2 727.9)" style="fill:#2BA35D;stroke:#2BA35D;stroke-width:0.2px">n = 46</text>
<text x="104.7" y="698.7" font-size="8.3" textLength="47.3" lengthAdjust="spacingAndGlyphs" transform="rotate(0.05 104.7 698.7)">Breast cancer</text>
<polyline points="99.97,709.22 100.33,712.31 101.79,715.03 103.6,718.67 105.42,722.3 107.23,725.93 108.14,730.47 109.96,737.73 111.77,742.27 114.5,746.81 117.22,749.53 119.94,753.16 122.67,758.61 125.39,762.24 129.02,764.96 131.74,770.41 134.47,774.04 137.19,775.49 137.73,778.21 143.91,778.76" fill="none" stroke="#F72B2D" stroke-width="1.5"/>
<polyline points="100.88,709.22 102.69,709.22 103.6,712.31 104.51,715.94 107.23,716.85 108.14,720.48 109.96,723.2 111.23,725.02 112.68,734.1 113.59,736.82 116.31,738.64 118.13,741.36 120.85,744.08 122.67,748.62 125.03,752.25 127.2,755.88 129.93,759.51 132.65,762.24 136.28,764.96 139.91,768.59 143.54,769.5 145.36,771.32 148.99,772.22 150.81,775.85 153.53,777.67 156.25,779.12" fill="none" stroke="#1FA67A" stroke-width="1.45"/>
<line x1="97.4" y1="706" x2="97.4" y2="783.9" stroke="#000" stroke-width="1.15"/>
<line x1="96.9" y1="783.3" x2="159.5" y2="783.3" stroke="#000" stroke-width="1.15"/>
<text x="100.9" y="792.5" font-size="8.3" text-anchor="middle" transform="rotate(0.05 100.9 792.5)" style="fill:#3a3a3a;stroke:#3a3a3a">0</text>
<text x="119.6" y="792.5" font-size="8.3" text-anchor="middle" transform="rotate(0.05 119.6 792.5)" style="fill:#3a3a3a;stroke:#3a3a3a">50</text>
<text x="138.5" y="792.5" font-size="8.3" text-anchor="middle" transform="rotate(0.05 138.5 792.5)" style="fill:#3a3a3a;stroke:#3a3a3a">100</text>
<text x="157.7" y="792.5" font-size="8.3" text-anchor="middle" transform="rotate(0.05 157.7 792.5)" style="fill:#3a3a3a;stroke:#3a3a3a">150</text>
<text x="128.7" y="802.5" font-size="8.3" text-anchor="middle" transform="rotate(0.05 128.7 802.5)">Time (Months)</text>
<text x="129" y="812.5" font-size="8.3" text-anchor="middle" transform="rotate(0.05 129 812.5)">P = 0.0066</text>
<text x="126.7" y="719.2" font-size="7.6" transform="rotate(0.05 126.7 719.2)" style="fill:#E5283C;stroke:#E5283C;stroke-width:0.2px">n = 548</text>
<text x="126.7" y="727.9" font-size="7.6" transform="rotate(0.05 126.7 727.9)" style="fill:#2BA35D;stroke:#2BA35D;stroke-width:0.2px">n = 549</text>
<text x="176.9" y="698.7" font-size="8.3" textLength="45.1" lengthAdjust="spacingAndGlyphs" transform="rotate(0.05 176.9 698.7)">Colon cancer</text>
<polyline points="171.42,715.94 172.15,723.2 173.24,730.47 173.97,737.73 174.51,744.99 175.42,754.07 176.87,759.51 178.14,764.96 179.41,768.59 180.86,771.32 183.59,772.22 185.4,775.85 188.13,777.67 188.67,779.49" fill="none" stroke="#F72B2D" stroke-width="1.5"/>
<polyline points="171.42,709.22 171.79,714.13 172.69,719.57 173.24,724.11 175.42,724.66 177.23,728.65 179.05,733.19 180.86,738.64 182.68,742.27 184.5,746.81 186.31,750.44 188.13,754.43 191.76,754.98 193.57,759.15 196.3,760.42 198.66,764.05 206.28,764.6 207.73,771.86 218.08,772.22 218.99,774.4 224.44,774.95 225.34,777.31 228.43,777.67 228.98,779.49" fill="none" stroke="#1FA67A" stroke-width="1.45"/>
<line x1="168.3" y1="706" x2="168.3" y2="783.9" stroke="#000" stroke-width="1.15"/>
<line x1="167.8" y1="783.3" x2="230.4" y2="783.3" stroke="#000" stroke-width="1.15"/>
<text x="170.9" y="792.5" font-size="8.3" text-anchor="middle" transform="rotate(0.05 170.9 792.5)" style="fill:#3a3a3a;stroke:#3a3a3a">0</text>
<text x="185" y="792.5" font-size="8.3" text-anchor="middle" transform="rotate(0.05 185 792.5)" style="fill:#3a3a3a;stroke:#3a3a3a">25</text>
<text x="199.4" y="792.5" font-size="8.3" text-anchor="middle" transform="rotate(0.05 199.4 792.5)" style="fill:#3a3a3a;stroke:#3a3a3a">50</text>
<text x="213.9" y="792.5" font-size="8.3" text-anchor="middle" transform="rotate(0.05 213.9 792.5)" style="fill:#3a3a3a;stroke:#3a3a3a">75</text>
<text x="228.4" y="792.5" font-size="8.3" text-anchor="middle" transform="rotate(0.05 228.4 792.5)" style="fill:#3a3a3a;stroke:#3a3a3a">100</text>
<text x="199.7" y="802.5" font-size="8.3" text-anchor="middle" transform="rotate(0.05 199.7 802.5)">Time (Months)</text>
<text x="200.5" y="812.5" font-size="8.3" text-anchor="middle" transform="rotate(0.05 200.5 812.5)">P &lt; 0.0001</text>
<text x="193" y="719.2" font-size="7.6" transform="rotate(0.05 193 719.2)" style="fill:#E5283C;stroke:#E5283C;stroke-width:0.2px">n = 229</text>
<text x="193" y="727.9" font-size="7.6" transform="rotate(0.05 193 727.9)" style="fill:#2BA35D;stroke:#2BA35D;stroke-width:0.2px">n = 230</text>
<text x="233.3" y="698.7" font-size="8.3" textLength="72.3" lengthAdjust="spacingAndGlyphs" transform="rotate(0.05 233.3 698.7)">Kidney chromophobe</text>
<polyline points="253.59,709.22 253.59,726.84 260.31,726.84 260.31,744.45 268.66,744.45 268.66,762.24 269.56,762.24 269.56,779.49" fill="none" stroke="#F72B2D" stroke-width="1.5"/>
<polyline points="241.42,709.22 273.56,709.22 273.56,726.84 275.92,726.84 275.92,744.45 285,744.45 285,762.24 300.43,762.24" fill="none" stroke="#1FA67A" stroke-width="1.45"/>
<line x1="238.3" y1="706" x2="238.3" y2="783.9" stroke="#000" stroke-width="1.15"/>
<line x1="237.8" y1="783.3" x2="300.4" y2="783.3" stroke="#000" stroke-width="1.15"/>
<text x="245" y="792.5" font-size="8.3" text-anchor="middle" transform="rotate(0.05 245 792.5)" style="fill:#3a3a3a;stroke:#3a3a3a">0</text>
<text x="252.1" y="792.5" font-size="8.3" text-anchor="middle" transform="rotate(0.05 252.1 792.5)" style="fill:#3a3a3a;stroke:#3a3a3a">10</text>
<text x="263.8" y="792.5" font-size="8.3" text-anchor="middle" transform="rotate(0.05 263.8 792.5)" style="fill:#3a3a3a;stroke:#3a3a3a">20</text>
<text x="275.4" y="792.5" font-size="8.3" text-anchor="middle" transform="rotate(0.05 275.4 792.5)" style="fill:#3a3a3a;stroke:#3a3a3a">30</text>
<text x="291.2" y="792.5" font-size="8.3" text-anchor="middle" transform="rotate(0.05 291.2 792.5)" style="fill:#3a3a3a;stroke:#3a3a3a">40</text>
<text x="302.6" y="792.5" font-size="8.3" text-anchor="middle" transform="rotate(0.05 302.6 792.5)" style="fill:#3a3a3a;stroke:#3a3a3a">50</text>
<text x="269.7" y="802.5" font-size="8.3" text-anchor="middle" transform="rotate(0.05 269.7 802.5)">Time (Months)</text>
<text x="271.3" y="812.5" font-size="8.3" text-anchor="middle" transform="rotate(0.05 271.3 812.5)">P = 0.0067</text>
<text x="285" y="719.2" font-size="7.6" transform="rotate(0.05 285 719.2)" style="fill:#E5283C;stroke:#E5283C;stroke-width:0.2px">n = 16</text>
<text x="285" y="727.9" font-size="7.6" transform="rotate(0.05 285 727.9)" style="fill:#2BA35D;stroke:#2BA35D;stroke-width:0.2px">n = 17</text>
<text x="309.7" y="698.7" font-size="8.3" textLength="75.6" lengthAdjust="spacingAndGlyphs" transform="rotate(0.05 309.7 698.7)">Renal clear cell cancer</text>
<polyline points="319.61,709.22 320.33,712.31 321.79,718.67 323.24,725.02 324.51,730.47 326.33,737.73 328.14,744.08 329.96,750.44 332.68,755.88 334.5,760.42 336.31,764.6 339.94,766.78 342.67,770.41 345.39,772.59 349.02,774.04 351.74,776.76 356.28,778.03 359.91,779.12" fill="none" stroke="#F72B2D" stroke-width="1.5"/>
<polyline points="319.61,709.22 320.33,712.31 321.42,716.85 322.69,719.57 325.05,721.39 326.33,725.02 329.05,727.74 331.77,732.28 334.5,735.91 337.22,740.45 339.03,744.99 340.85,749.53 343.57,751.34 345.39,755.88 348.11,759.51 349.93,765.87 354.47,766.78 356.28,770.41 359.91,773.13 362.64,776.22 365.36,778.03 368.99,778.94 371.71,779.12" fill="none" stroke="#1FA67A" stroke-width="1.45"/>
<line x1="316.5" y1="706" x2="316.5" y2="783.9" stroke="#000" stroke-width="1.15"/>
<line x1="316" y1="783.3" x2="378.6" y2="783.3" stroke="#000" stroke-width="1.15"/>
<text x="320" y="792.5" font-size="8.3" text-anchor="middle" transform="rotate(0.05 320 792.5)" style="fill:#3a3a3a;stroke:#3a3a3a">0</text>
<text x="334.1" y="792.5" font-size="8.3" text-anchor="middle" transform="rotate(0.05 334.1 792.5)" style="fill:#3a3a3a;stroke:#3a3a3a">25</text>
<text x="348.5" y="792.5" font-size="8.3" text-anchor="middle" transform="rotate(0.05 348.5 792.5)" style="fill:#3a3a3a;stroke:#3a3a3a">50</text>
<text x="363" y="792.5" font-size="8.3" text-anchor="middle" transform="rotate(0.05 363 792.5)" style="fill:#3a3a3a;stroke:#3a3a3a">75</text>
<text x="377.2" y="792.5" font-size="8.3" text-anchor="middle" transform="rotate(0.05 377.2 792.5)" style="fill:#3a3a3a;stroke:#3a3a3a">100</text>
<text x="347.7" y="802.5" font-size="8.3" text-anchor="middle" transform="rotate(0.05 347.7 802.5)">Time (Months)</text>
<text x="350.4" y="812.5" font-size="8.3" text-anchor="middle" transform="rotate(0.05 350.4 812.5)">P &lt; 0.0001</text>
<text x="347.7" y="719.2" font-size="7.6" transform="rotate(0.05 347.7 719.2)" style="fill:#E5283C;stroke:#E5283C;stroke-width:0.2px">n = 268</text>
<text x="347.7" y="727.9" font-size="7.6" transform="rotate(0.05 347.7 727.9)" style="fill:#2BA35D;stroke:#2BA35D;stroke-width:0.2px">n = 269</text>
<text x="388.7" y="698.7" font-size="8.3" textLength="76.6" lengthAdjust="spacingAndGlyphs" transform="rotate(0.05 388.7 698.7)">Renal papillary camcer</text>
<polyline points="398.7,709.22 398.7,716.85 400.88,717.39 401.79,724.11 403.24,728.65 404.51,737.73 405.42,746.81 406.33,755.88 407.6,756.25 408.69,771.32 409.96,775.49 419.03,775.49 419.03,779.49" fill="none" stroke="#F72B2D" stroke-width="1.5"/>
<polyline points="398.7,709.22 408.69,709.22 408.69,713.76 411.23,713.76 411.23,722.3 416.31,722.3 416.31,726.84 423.57,726.84 423.57,739.54 426.3,739.54 427.57,748.62 428.11,757.7 432.65,757.7 432.65,761.69 437.73,761.69 437.73,766.23 448.63,766.23 448.63,770.41 449.9,774.95 454.44,775.49 454.44,779.49" fill="none" stroke="#1FA67A" stroke-width="1.45"/>
<line x1="396.1" y1="706" x2="396.1" y2="783.9" stroke="#2e2e2e" stroke-width="1.15"/>
<line x1="395.6" y1="783.3" x2="458" y2="783.3" stroke="#2e2e2e" stroke-width="1.15"/>
<text x="399" y="792.5" font-size="8.3" text-anchor="middle" transform="rotate(0.05 399 792.5)" style="fill:#3a3a3a;stroke:#3a3a3a">0</text>
<text x="413.2" y="792.5" font-size="8.3" text-anchor="middle" transform="rotate(0.05 413.2 792.5)" style="fill:#3a3a3a;stroke:#3a3a3a">25</text>
<text x="427.6" y="792.5" font-size="8.3" text-anchor="middle" transform="rotate(0.05 427.6 792.5)" style="fill:#3a3a3a;stroke:#3a3a3a">50</text>
<text x="442" y="792.5" font-size="8.3" text-anchor="middle" transform="rotate(0.05 442 792.5)" style="fill:#3a3a3a;stroke:#3a3a3a">75</text>
<text x="456.6" y="792.5" font-size="8.3" text-anchor="middle" transform="rotate(0.05 456.6 792.5)" style="fill:#3a3a3a;stroke:#3a3a3a">100</text>
<text x="427.4" y="802.5" font-size="8.3" text-anchor="middle" transform="rotate(0.05 427.4 802.5)">Time (Months)</text>
<text x="430.4" y="812.5" font-size="8.3" text-anchor="middle" transform="rotate(0.05 430.4 812.5)">P &lt; 0.0001</text>
<text x="431.4" y="719.2" font-size="7.6" transform="rotate(0.05 431.4 719.2)" style="fill:#E5283C;stroke:#E5283C;stroke-width:0.2px">n = 145</text>
<text x="431.4" y="727.9" font-size="7.6" transform="rotate(0.05 431.4 727.9)" style="fill:#2BA35D;stroke:#2BA35D;stroke-width:0.2px">n = 146</text>
<text x="480.1" y="698.7" font-size="8.3" textLength="41.5" lengthAdjust="spacingAndGlyphs" transform="rotate(0.05 480.1 698.7)">Liver cancer</text>
<polyline points="472.79,709.22 473.52,716.85 474.61,724.11 476.42,730.47 478.6,733.19 480.05,739.54 481.87,748.62 483.69,755.88 485.5,763.15 487.68,768.59 489.13,773.13 490.95,774.95 494.03,775.49 494.94,778.21 496.76,779.12" fill="none" stroke="#F72B2D" stroke-width="1.5"/>
<polyline points="472.79,709.22 473.52,715.03 474.61,720.48 476.42,725.02 477.69,730.47 480.05,732.28 481.33,736.82 484.05,740.45 486.23,744.99 488.59,748.62 491.31,749.53 495.31,750.07 497.67,753.16 499.48,757.7 502.2,763.15 504.02,766.78 506.74,768.59 512.73,768.96 513.46,771.86 519.45,772.22 520.36,776.22 531.25,776.58 532.16,778.58" fill="none" stroke="#1FA67A" stroke-width="1.45"/>
<line x1="469.9" y1="706" x2="469.9" y2="783.9" stroke="#2e2e2e" stroke-width="1.15"/>
<line x1="469.4" y1="783.3" x2="532.2" y2="783.3" stroke="#2e2e2e" stroke-width="1.15"/>
<text x="472.6" y="792.5" font-size="8.3" text-anchor="middle" transform="rotate(0.05 472.6 792.5)" style="fill:#3a3a3a;stroke:#3a3a3a">0</text>
<text x="486.8" y="792.5" font-size="8.3" text-anchor="middle" transform="rotate(0.05 486.8 792.5)" style="fill:#3a3a3a;stroke:#3a3a3a">25</text>
<text x="500.9" y="792.5" font-size="8.3" text-anchor="middle" transform="rotate(0.05 500.9 792.5)" style="fill:#3a3a3a;stroke:#3a3a3a">50</text>
<text x="515.5" y="792.5" font-size="8.3" text-anchor="middle" transform="rotate(0.05 515.5 792.5)" style="fill:#3a3a3a;stroke:#3a3a3a">75</text>
<text x="529.8" y="792.5" font-size="8.3" text-anchor="middle" transform="rotate(0.05 529.8 792.5)" style="fill:#3a3a3a;stroke:#3a3a3a">100</text>
<text x="501.1" y="802.5" font-size="8.3" text-anchor="middle" transform="rotate(0.05 501.1 802.5)">Time (Months)</text>
<text x="505.4" y="812.5" font-size="8.3" text-anchor="middle" transform="rotate(0.05 505.4 812.5)">P &lt; 0.0001</text>
<text x="496.8" y="719.2" font-size="7.6" transform="rotate(0.05 496.8 719.2)" style="fill:#E5283C;stroke:#E5283C;stroke-width:0.2px">n = 188</text>
<text x="496.8" y="727.9" font-size="7.6" transform="rotate(0.05 496.8 727.9)" style="fill:#2BA35D;stroke:#2BA35D;stroke-width:0.2px">n = 189</text>
<text x="538.9" y="698.7" font-size="8.3" textLength="72.1" lengthAdjust="spacingAndGlyphs" transform="rotate(0.05 538.9 698.7)">lung adenocarcinoma</text>
<polyline points="546.42,709.22 548.06,716.85 549.15,727.92 550.78,736.64 552.6,744.26 554.23,749.71 555.86,754.07 556.95,759.51 558.59,765.14 560.22,770.59 561.67,774.22 563.49,777.13 565.67,778.58 567.85,779.12" fill="none" stroke="#F72B2D" stroke-width="1.5"/>
<polyline points="546.42,709.22 548.6,711.4 550.42,716.85 551.51,725.75 553.69,732.28 555.86,738.82 558.04,746.44 560.22,751.89 562.4,757.34 564.58,760.6 566.03,765.14 567.85,768.96 571.11,769.86 574.02,771.68 576.2,773.31 577.65,776.4 584.19,776.94 586.55,778.58 605.43,779.12" fill="none" stroke="#1FA67A" stroke-width="1.45"/>
<line x1="543.9" y1="706" x2="543.9" y2="783.9" stroke="#2e2e2e" stroke-width="1.15"/>
<line x1="543.4" y1="783.3" x2="605.8" y2="783.3" stroke="#2e2e2e" stroke-width="1.15"/>
<text x="547.1" y="792.5" font-size="8.3" text-anchor="middle" transform="rotate(0.05 547.1 792.5)" style="fill:#3a3a3a;stroke:#3a3a3a">0</text>
<text x="561.3" y="792.5" font-size="8.3" text-anchor="middle" transform="rotate(0.05 561.3 792.5)" style="fill:#3a3a3a;stroke:#3a3a3a">40</text>
<text x="575.5" y="792.5" font-size="8.3" text-anchor="middle" transform="rotate(0.05 575.5 792.5)" style="fill:#3a3a3a;stroke:#3a3a3a">80</text>
<text x="590" y="792.5" font-size="8.3" text-anchor="middle" transform="rotate(0.05 590 792.5)" style="fill:#3a3a3a;stroke:#3a3a3a">120</text>
<text x="604" y="792.5" font-size="8.3" text-anchor="middle" transform="rotate(0.05 604 792.5)" style="fill:#3a3a3a;stroke:#3a3a3a">160</text>
<text x="575.3" y="802.5" font-size="8.3" text-anchor="middle" transform="rotate(0.05 575.3 802.5)">Time (Months)</text>
<text x="580.1" y="812.5" font-size="8.3" text-anchor="middle" transform="rotate(0.05 580.1 812.5)">P &lt; 0.0001</text>
<text x="561.9" y="719.2" font-size="7.6" transform="rotate(0.05 561.9 719.2)" style="fill:#E5283C;stroke:#E5283C;stroke-width:0.2px">n = 261</text>
<text x="561.9" y="727.9" font-size="7.6" transform="rotate(0.05 561.9 727.9)" style="fill:#2BA35D;stroke:#2BA35D;stroke-width:0.2px">n = 261</text>
<text x="622.8" y="698.7" font-size="8.3" textLength="52.3" lengthAdjust="spacingAndGlyphs" transform="rotate(0.05 622.8 698.7)">lung squamous</text>
<text x="631" y="708.7" font-size="8.3" textLength="35.6" lengthAdjust="spacingAndGlyphs" transform="rotate(0.05 631 708.7)">cell cancer</text>
<polyline points="620.01,710.31 620.92,716.85 622.19,725.75 623.28,734.46 624.37,742.09 625.28,749.71 626.91,756.25 628.73,761.88 630.9,766.78 633.08,770.59 635.81,773.31 639.07,776.04 642.34,777.85 645.61,778.58 648.88,779.12" fill="none" stroke="#F72B2D" stroke-width="1.5"/>
<polyline points="620.37,709.22 621.46,714.67 622.55,722.3 623.64,730.1 624.73,736.64 626.55,744.26 628.73,749.71 630.9,755.16 633.08,760.6 635.81,765.14 638.35,768.41 641.25,771.68 644.52,773.86 648.88,775.67 653.24,777.85 657.59,778.94 670.85,779.12" fill="none" stroke="#1FA67A" stroke-width="1.45"/>
<line x1="618" y1="706" x2="618" y2="783.9" stroke="#2e2e2e" stroke-width="1.15"/>
<line x1="617.5" y1="783.3" x2="679.7" y2="783.3" stroke="#2e2e2e" stroke-width="1.15"/>
<text x="621.4" y="792.5" font-size="7.6" text-anchor="middle" transform="rotate(0.05 621.4 792.5)" style="fill:#3a3a3a;stroke:#3a3a3a">0</text>
<text x="634.4" y="792.5" font-size="7.6" text-anchor="middle" transform="rotate(0.05 634.4 792.5)" style="fill:#3a3a3a;stroke:#3a3a3a">50</text>
<text x="647.6" y="792.5" font-size="7.6" text-anchor="middle" transform="rotate(0.05 647.6 792.5)" style="fill:#3a3a3a;stroke:#3a3a3a">100</text>
<text x="663.1" y="792.5" font-size="7.6" text-anchor="middle" transform="rotate(0.05 663.1 792.5)" style="fill:#3a3a3a;stroke:#3a3a3a">150</text>
<text x="678.6" y="792.5" font-size="7.6" text-anchor="middle" transform="rotate(0.05 678.6 792.5)" style="fill:#3a3a3a;stroke:#3a3a3a">200</text>
<text x="648.9" y="802.5" font-size="8.3" text-anchor="middle" transform="rotate(0.05 648.9 802.5)">Time (Months)</text>
<text x="655.1" y="812.5" font-size="8.3" text-anchor="middle" transform="rotate(0.05 655.1 812.5)">P = 0.0067</text>
<text x="635.3" y="719.2" font-size="7.6" transform="rotate(0.05 635.3 719.2)" style="fill:#E5283C;stroke:#E5283C;stroke-width:0.2px">n = 252</text>
<text x="635.3" y="727.9" font-size="7.6" transform="rotate(0.05 635.3 727.9)" style="fill:#2BA35D;stroke:#2BA35D;stroke-width:0.2px">n = 252</text>
<line x1="504" y1="820.9" x2="509.6" y2="820.9" stroke="#F72B2D" stroke-width="1.5"/>
<text x="512.2" y="823.8" font-size="8.2" transform="rotate(0.05 512.2 823.8)">High signature score</text>
<line x1="594.7" y1="820.9" x2="599.7" y2="820.9" stroke="#1FA67A" stroke-width="1.45"/>
<text x="602.8" y="823.8" font-size="8.2" transform="rotate(0.05 602.8 823.8)">Low signature score</text>
</g>
<g id="vertical-labels" transform="rotate(-90)" style="will-change:transform">
<text x="-91.9" y="13.1" font-size="9.7" text-anchor="middle" transform="rotate(0.05 -91.9 13.1)">Sources (Sender)</text>
<text x="-152.6" y="87.45" font-size="8.2" text-anchor="end" transform="rotate(0.05 -152.6 87.45)">B Cells</text>
<text x="-152.6" y="103.25" font-size="8.2" text-anchor="end" transform="rotate(0.05 -152.6 103.25)">DC</text>
<text x="-152.6" y="119.05" font-size="8.2" text-anchor="end" transform="rotate(0.05 -152.6 119.05)">Epithelial cells</text>
<text x="-152.6" y="134.85" font-size="8.2" text-anchor="end" transform="rotate(0.05 -152.6 134.85)">Fibroblasts</text>
<text x="-152.6" y="150.65" font-size="8.2" text-anchor="end" transform="rotate(0.05 -152.6 150.65)">Macrophage</text>
<text x="-152.6" y="166.45" font-size="8.2" text-anchor="end" transform="rotate(0.05 -152.6 166.45)">T cells</text>
<text x="-152.6" y="207.25" font-size="8.2" text-anchor="end" transform="rotate(0.05 -152.6 207.25)">B Cells</text>
<text x="-152.6" y="223.05" font-size="8.2" text-anchor="end" transform="rotate(0.05 -152.6 223.05)">DC</text>
<text x="-152.6" y="238.85" font-size="8.2" text-anchor="end" transform="rotate(0.05 -152.6 238.85)">Epithelial cells</text>
<text x="-152.6" y="254.65" font-size="8.2" text-anchor="end" transform="rotate(0.05 -152.6 254.65)">Fibroblasts</text>
<text x="-152.6" y="270.45" font-size="8.2" text-anchor="end" transform="rotate(0.05 -152.6 270.45)">Macrophage</text>
<text x="-152.6" y="286.25" font-size="8.2" text-anchor="end" transform="rotate(0.05 -152.6 286.25)">T cells</text>
<text x="-319.8" y="13.1" font-size="9.7" text-anchor="middle" transform="rotate(0.05 -319.8 13.1)">Sources (Sender)</text>
<text x="-381.05" y="85.95" font-size="8.2" text-anchor="end" transform="rotate(0.05 -381.05 85.95)">B Cells</text>
<text x="-381.05" y="101.75" font-size="8.2" text-anchor="end" transform="rotate(0.05 -381.05 101.75)">DC</text>
<text x="-381.05" y="117.55" font-size="8.2" text-anchor="end" transform="rotate(0.05 -381.05 117.55)">Epithelial cells</text>
<text x="-381.05" y="133.35" font-size="8.2" text-anchor="end" transform="rotate(0.05 -381.05 133.35)">Fibroblasts</text>
<text x="-381.05" y="149.15" font-size="8.2" text-anchor="end" transform="rotate(0.05 -381.05 149.15)">Macrophage</text>
<text x="-381.05" y="164.95" font-size="8.2" text-anchor="end" transform="rotate(0.05 -381.05 164.95)">T cells</text>
<text x="-381.05" y="205.45" font-size="8.2" text-anchor="end" transform="rotate(0.05 -381.05 205.45)">B Cells</text>
<text x="-381.05" y="221.25" font-size="8.2" text-anchor="end" transform="rotate(0.05 -381.05 221.25)">DC</text>
<text x="-381.05" y="237.05" font-size="8.2" text-anchor="end" transform="rotate(0.05 -381.05 237.05)">Epithelial cells</text>
<text x="-381.05" y="252.85" font-size="8.2" text-anchor="end" transform="rotate(0.05 -381.05 252.85)">Fibroblasts</text>
<text x="-381.05" y="268.65" font-size="8.2" text-anchor="end" transform="rotate(0.05 -381.05 268.65)">Macrophage</text>
<text x="-381.05" y="284.45" font-size="8.2" text-anchor="end" transform="rotate(0.05 -381.05 284.45)">T cells</text>
<text x="-546.2" y="12.7" font-size="9.7" text-anchor="middle" transform="rotate(0.05 -546.2 12.7)">Sources (Sender)</text>
<text x="-607.5" y="86.35" font-size="8.2" text-anchor="end" transform="rotate(0.05 -607.5 86.35)">B Cells</text>
<text x="-607.5" y="102.15" font-size="8.2" text-anchor="end" transform="rotate(0.05 -607.5 102.15)">DC</text>
<text x="-607.5" y="117.95" font-size="8.2" text-anchor="end" transform="rotate(0.05 -607.5 117.95)">Epithelial cells</text>
<text x="-607.5" y="133.75" font-size="8.2" text-anchor="end" transform="rotate(0.05 -607.5 133.75)">Fibroblasts</text>
<text x="-607.5" y="149.55" font-size="8.2" text-anchor="end" transform="rotate(0.05 -607.5 149.55)">Macrophage</text>
<text x="-607.5" y="165.35" font-size="8.2" text-anchor="end" transform="rotate(0.05 -607.5 165.35)">T cells</text>
<text x="-607.5" y="205.95" font-size="8.2" text-anchor="end" transform="rotate(0.05 -607.5 205.95)">B Cells</text>
<text x="-607.5" y="221.75" font-size="8.2" text-anchor="end" transform="rotate(0.05 -607.5 221.75)">DC</text>
<text x="-607.5" y="237.55" font-size="8.2" text-anchor="end" transform="rotate(0.05 -607.5 237.55)">Epithelial cells</text>
<text x="-607.5" y="253.35" font-size="8.2" text-anchor="end" transform="rotate(0.05 -607.5 253.35)">Fibroblasts</text>
<text x="-607.5" y="269.15" font-size="8.2" text-anchor="end" transform="rotate(0.05 -607.5 269.15)">Macrophage</text>
<text x="-607.5" y="284.95" font-size="8.2" text-anchor="end" transform="rotate(0.05 -607.5 284.95)">T cells</text>
<text x="-501.9" y="509.9" font-size="8.5" text-anchor="middle" transform="rotate(0.05 -501.9 509.9)">BCR-free survival</text>
<text x="-615.9" y="509.9" font-size="8.5" text-anchor="middle" transform="rotate(0.05 -615.9 509.9)">BCR-free survival</text>
<text x="-744.6" y="5.8" font-size="8.3" text-anchor="middle" transform="rotate(0.05 -744.6 5.8)">Overall survival (%)</text>
</g>
</svg>
</body>
</html>
